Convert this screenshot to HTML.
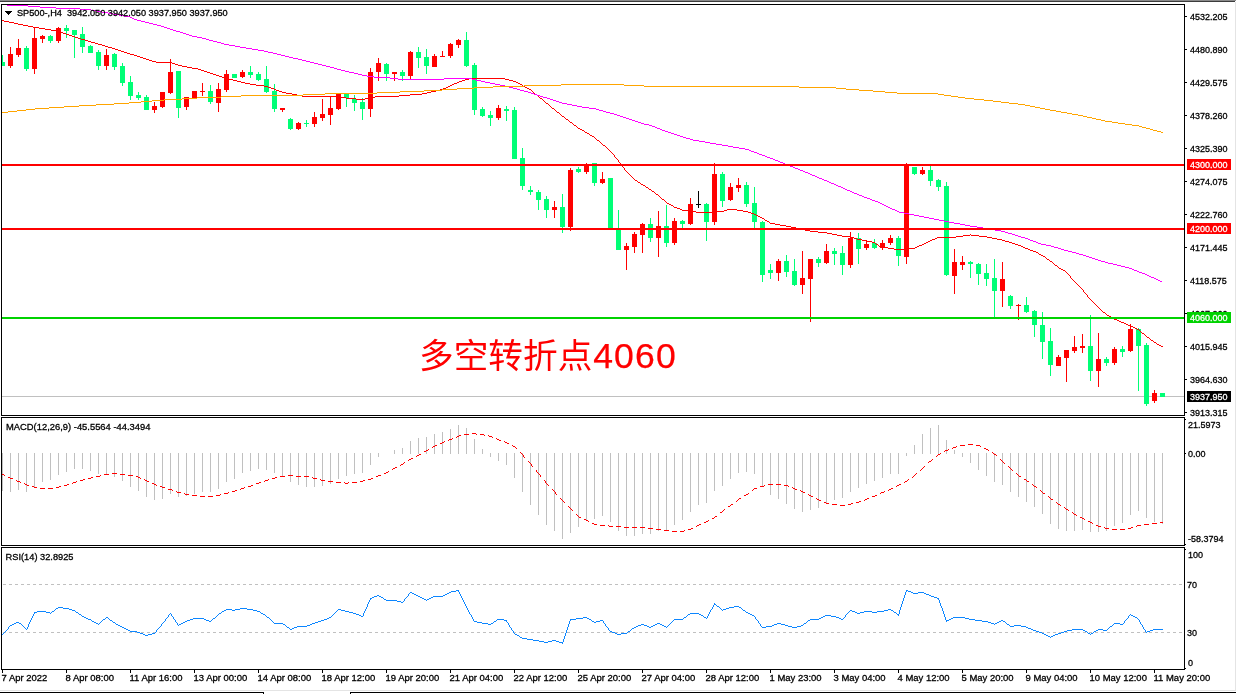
<!DOCTYPE html>
<html><head><meta charset="utf-8"><title>SP500 H4</title>
<style>
html,body{margin:0;padding:0;background:#fff;}
body{width:1236px;height:694px;overflow:hidden;font-family:"Liberation Sans",sans-serif;}
svg text{font-family:"Liberation Sans",sans-serif;}
</style></head><body>
<svg width="1236" height="694" viewBox="0 0 1236 694" style="display:block;will-change:transform;font-family:&#39;Liberation Sans&#39;,sans-serif" >
<rect x="0" y="0" width="1236" height="694" fill="#fff"/>
<rect x="0" y="0" width="1236" height="1" fill="#8a8a8a"/>
<rect x="0" y="1" width="1235" height="1" fill="#3c3c3c"/>
<rect x="1235" y="2" width="1" height="688" fill="#E4E4E4"/>
<rect x="0" y="690" width="1236" height="1" fill="#E4E4E4"/>
<rect x="0" y="692" width="264" height="1" fill="#000"/>
<rect x="350" y="692" width="886" height="1" fill="#000"/>
<rect x="263" y="692" width="1" height="2" fill="#000"/>
<rect x="350" y="692" width="1" height="2" fill="#000"/>
<g shape-rendering="crispEdges">
<rect x="2" y="55" width="1" height="11" fill="#00FF76"/>
<rect x="2" y="62" width="3" height="4" fill="#00FF76"/>
<rect x="10" y="47" width="1" height="21" fill="#FF0000"/>
<rect x="8" y="54" width="5" height="12" fill="#FF0000"/>
<rect x="18" y="39" width="1" height="18" fill="#FF0000"/>
<rect x="16" y="48" width="5" height="7" fill="#FF0000"/>
<rect x="26" y="46" width="1" height="25" fill="#00FF76"/>
<rect x="24" y="48" width="5" height="21" fill="#00FF76"/>
<rect x="34" y="27" width="1" height="47" fill="#FF0000"/>
<rect x="32" y="38" width="5" height="31" fill="#FF0000"/>
<rect x="42" y="35" width="1" height="8" fill="#FF0000"/>
<rect x="40" y="36" width="5" height="3" fill="#FF0000"/>
<rect x="50" y="35" width="1" height="8" fill="#00FF76"/>
<rect x="48" y="36" width="5" height="5" fill="#00FF76"/>
<rect x="58" y="27" width="1" height="16" fill="#FF0000"/>
<rect x="56" y="28" width="5" height="13" fill="#FF0000"/>
<rect x="66" y="25" width="1" height="13" fill="#00FF76"/>
<rect x="64" y="28" width="5" height="3" fill="#00FF76"/>
<rect x="74" y="30" width="1" height="28" fill="#00FF76"/>
<rect x="72" y="30" width="5" height="5" fill="#00FF76"/>
<rect x="82" y="27" width="1" height="26" fill="#00FF76"/>
<rect x="80" y="34" width="5" height="13" fill="#00FF76"/>
<rect x="90" y="45" width="1" height="8" fill="#00FF76"/>
<rect x="88" y="46" width="5" height="7" fill="#00FF76"/>
<rect x="98" y="50" width="1" height="20" fill="#00FF76"/>
<rect x="96" y="52" width="5" height="14" fill="#00FF76"/>
<rect x="106" y="49" width="1" height="21" fill="#FF0000"/>
<rect x="104" y="55" width="5" height="11" fill="#FF0000"/>
<rect x="114" y="53" width="1" height="17" fill="#00FF76"/>
<rect x="112" y="54" width="5" height="13" fill="#00FF76"/>
<rect x="122" y="63" width="1" height="23" fill="#00FF76"/>
<rect x="120" y="66" width="5" height="17" fill="#00FF76"/>
<rect x="130" y="76" width="1" height="24" fill="#00FF76"/>
<rect x="128" y="82" width="5" height="14" fill="#00FF76"/>
<rect x="138" y="92" width="1" height="8" fill="#00FF76"/>
<rect x="136" y="95" width="5" height="3" fill="#00FF76"/>
<rect x="146" y="95" width="1" height="15" fill="#00FF76"/>
<rect x="144" y="97" width="5" height="13" fill="#00FF76"/>
<rect x="154" y="102" width="1" height="11" fill="#FF0000"/>
<rect x="152" y="106" width="5" height="4" fill="#FF0000"/>
<rect x="162" y="92" width="1" height="16" fill="#FF0000"/>
<rect x="160" y="92" width="5" height="15" fill="#FF0000"/>
<rect x="170" y="59" width="1" height="35" fill="#FF0000"/>
<rect x="168" y="72" width="5" height="21" fill="#FF0000"/>
<rect x="178" y="71" width="1" height="47" fill="#00FF76"/>
<rect x="176" y="71" width="5" height="37" fill="#00FF76"/>
<rect x="186" y="97" width="1" height="13" fill="#FF0000"/>
<rect x="184" y="97" width="5" height="10" fill="#FF0000"/>
<rect x="194" y="91" width="1" height="7" fill="#FF0000"/>
<rect x="192" y="91" width="5" height="7" fill="#FF0000"/>
<rect x="202" y="83" width="1" height="13" fill="#FF0000"/>
<rect x="200" y="91" width="5" height="1" fill="#FF0000"/>
<rect x="210" y="85" width="1" height="19" fill="#00FF76"/>
<rect x="208" y="91" width="5" height="11" fill="#00FF76"/>
<rect x="218" y="83" width="1" height="29" fill="#FF0000"/>
<rect x="216" y="89" width="5" height="14" fill="#FF0000"/>
<rect x="226" y="70" width="1" height="22" fill="#FF0000"/>
<rect x="224" y="74" width="5" height="16" fill="#FF0000"/>
<rect x="234" y="74" width="1" height="4" fill="#00FF76"/>
<rect x="232" y="74" width="5" height="4" fill="#00FF76"/>
<rect x="242" y="70" width="1" height="8" fill="#FF0000"/>
<rect x="240" y="72" width="5" height="5" fill="#FF0000"/>
<rect x="250" y="66" width="1" height="12" fill="#00FF76"/>
<rect x="248" y="72" width="5" height="3" fill="#00FF76"/>
<rect x="258" y="72" width="1" height="9" fill="#00FF76"/>
<rect x="256" y="74" width="5" height="6" fill="#00FF76"/>
<rect x="266" y="66" width="1" height="27" fill="#00FF76"/>
<rect x="264" y="79" width="5" height="13" fill="#00FF76"/>
<rect x="274" y="84" width="1" height="28" fill="#00FF76"/>
<rect x="272" y="91" width="5" height="18" fill="#00FF76"/>
<rect x="282" y="108" width="1" height="4" fill="#FF0000"/>
<rect x="280" y="108" width="5" height="2" fill="#FF0000"/>
<rect x="290" y="118" width="1" height="12" fill="#00FF76"/>
<rect x="288" y="119" width="5" height="10" fill="#00FF76"/>
<rect x="298" y="122" width="1" height="8" fill="#FF0000"/>
<rect x="296" y="123" width="5" height="6" fill="#FF0000"/>
<rect x="306" y="120" width="1" height="7" fill="#00FF76"/>
<rect x="304" y="123" width="5" height="1" fill="#00FF76"/>
<rect x="314" y="112" width="1" height="15" fill="#FF0000"/>
<rect x="312" y="117" width="5" height="7" fill="#FF0000"/>
<rect x="322" y="99" width="1" height="22" fill="#FF0000"/>
<rect x="320" y="114" width="5" height="4" fill="#FF0000"/>
<rect x="330" y="97" width="1" height="28" fill="#FF0000"/>
<rect x="328" y="108" width="5" height="7" fill="#FF0000"/>
<rect x="338" y="94" width="1" height="16" fill="#FF0000"/>
<rect x="336" y="94" width="5" height="15" fill="#FF0000"/>
<rect x="346" y="94" width="1" height="13" fill="#00FF76"/>
<rect x="344" y="94" width="5" height="4" fill="#00FF76"/>
<rect x="354" y="95" width="1" height="16" fill="#00FF76"/>
<rect x="352" y="99" width="5" height="4" fill="#00FF76"/>
<rect x="362" y="98" width="1" height="22" fill="#00FF76"/>
<rect x="360" y="102" width="5" height="7" fill="#00FF76"/>
<rect x="370" y="68" width="1" height="49" fill="#FF0000"/>
<rect x="368" y="72" width="5" height="37" fill="#FF0000"/>
<rect x="378" y="58" width="1" height="23" fill="#FF0000"/>
<rect x="376" y="63" width="5" height="9" fill="#FF0000"/>
<rect x="386" y="63" width="1" height="18" fill="#00FF76"/>
<rect x="384" y="64" width="5" height="10" fill="#00FF76"/>
<rect x="394" y="72" width="1" height="9" fill="#FF0000"/>
<rect x="392" y="72" width="5" height="2" fill="#FF0000"/>
<rect x="402" y="70" width="1" height="11" fill="#00FF76"/>
<rect x="400" y="72" width="5" height="4" fill="#00FF76"/>
<rect x="410" y="51" width="1" height="28" fill="#FF0000"/>
<rect x="408" y="52" width="5" height="24" fill="#FF0000"/>
<rect x="418" y="47" width="1" height="21" fill="#00FF76"/>
<rect x="416" y="52" width="5" height="6" fill="#00FF76"/>
<rect x="426" y="49" width="1" height="25" fill="#00FF76"/>
<rect x="424" y="57" width="5" height="9" fill="#00FF76"/>
<rect x="434" y="54" width="1" height="13" fill="#FF0000"/>
<rect x="432" y="56" width="5" height="11" fill="#FF0000"/>
<rect x="442" y="51" width="1" height="6" fill="#FF0000"/>
<rect x="440" y="56" width="5" height="1" fill="#FF0000"/>
<rect x="450" y="43" width="1" height="15" fill="#FF0000"/>
<rect x="448" y="44" width="5" height="12" fill="#FF0000"/>
<rect x="458" y="39" width="1" height="9" fill="#FF0000"/>
<rect x="456" y="40" width="5" height="5" fill="#FF0000"/>
<rect x="466" y="32" width="1" height="35" fill="#00FF76"/>
<rect x="464" y="40" width="5" height="26" fill="#00FF76"/>
<rect x="474" y="63" width="1" height="52" fill="#00FF76"/>
<rect x="472" y="65" width="5" height="45" fill="#00FF76"/>
<rect x="482" y="107" width="1" height="10" fill="#00FF76"/>
<rect x="480" y="109" width="5" height="7" fill="#00FF76"/>
<rect x="490" y="111" width="1" height="15" fill="#00FF76"/>
<rect x="488" y="115" width="5" height="3" fill="#00FF76"/>
<rect x="498" y="105" width="1" height="15" fill="#FF0000"/>
<rect x="496" y="108" width="5" height="10" fill="#FF0000"/>
<rect x="506" y="106" width="1" height="15" fill="#00FF76"/>
<rect x="504" y="109" width="5" height="2" fill="#00FF76"/>
<rect x="514" y="107" width="1" height="52" fill="#00FF76"/>
<rect x="512" y="110" width="5" height="49" fill="#00FF76"/>
<rect x="522" y="148" width="1" height="42" fill="#00FF76"/>
<rect x="520" y="158" width="5" height="28" fill="#00FF76"/>
<rect x="530" y="186" width="1" height="9" fill="#00FF76"/>
<rect x="528" y="190" width="5" height="2" fill="#00FF76"/>
<rect x="538" y="190" width="1" height="20" fill="#00FF76"/>
<rect x="536" y="192" width="5" height="8" fill="#00FF76"/>
<rect x="546" y="196" width="1" height="22" fill="#00FF76"/>
<rect x="544" y="199" width="5" height="11" fill="#00FF76"/>
<rect x="554" y="201" width="1" height="17" fill="#FF0000"/>
<rect x="552" y="207" width="5" height="3" fill="#FF0000"/>
<rect x="562" y="194" width="1" height="39" fill="#00FF76"/>
<rect x="560" y="207" width="5" height="20" fill="#00FF76"/>
<rect x="570" y="168" width="1" height="63" fill="#FF0000"/>
<rect x="568" y="170" width="5" height="57" fill="#FF0000"/>
<rect x="578" y="167" width="1" height="6" fill="#00FF76"/>
<rect x="576" y="169" width="5" height="3" fill="#00FF76"/>
<rect x="586" y="163" width="1" height="11" fill="#FF0000"/>
<rect x="584" y="164" width="5" height="8" fill="#FF0000"/>
<rect x="594" y="163" width="1" height="23" fill="#00FF76"/>
<rect x="592" y="163" width="5" height="20" fill="#00FF76"/>
<rect x="602" y="172" width="1" height="12" fill="#FF0000"/>
<rect x="600" y="179" width="5" height="4" fill="#FF0000"/>
<rect x="610" y="178" width="1" height="50" fill="#00FF76"/>
<rect x="608" y="178" width="5" height="50" fill="#00FF76"/>
<rect x="618" y="210" width="1" height="40" fill="#00FF76"/>
<rect x="616" y="228" width="5" height="22" fill="#00FF76"/>
<rect x="626" y="243" width="1" height="27" fill="#FF0000"/>
<rect x="624" y="246" width="5" height="4" fill="#FF0000"/>
<rect x="634" y="232" width="1" height="21" fill="#FF0000"/>
<rect x="632" y="234" width="5" height="13" fill="#FF0000"/>
<rect x="642" y="223" width="1" height="30" fill="#FF0000"/>
<rect x="640" y="224" width="5" height="11" fill="#FF0000"/>
<rect x="650" y="218" width="1" height="24" fill="#00FF76"/>
<rect x="648" y="224" width="5" height="14" fill="#00FF76"/>
<rect x="658" y="211" width="1" height="46" fill="#FF0000"/>
<rect x="656" y="226" width="5" height="12" fill="#FF0000"/>
<rect x="666" y="205" width="1" height="42" fill="#00FF76"/>
<rect x="664" y="226" width="5" height="17" fill="#00FF76"/>
<rect x="674" y="218" width="1" height="27" fill="#FF0000"/>
<rect x="672" y="221" width="5" height="22" fill="#FF0000"/>
<rect x="682" y="220" width="1" height="8" fill="#00FF76"/>
<rect x="680" y="221" width="5" height="3" fill="#00FF76"/>
<rect x="690" y="198" width="1" height="27" fill="#FF0000"/>
<rect x="688" y="204" width="5" height="20" fill="#FF0000"/>
<rect x="698" y="191" width="1" height="17" fill="#000"/>
<rect x="696" y="204" width="5" height="1" fill="#000"/>
<rect x="706" y="203" width="1" height="38" fill="#00FF76"/>
<rect x="704" y="204" width="5" height="18" fill="#00FF76"/>
<rect x="714" y="163" width="1" height="62" fill="#FF0000"/>
<rect x="712" y="174" width="5" height="48" fill="#FF0000"/>
<rect x="722" y="172" width="1" height="35" fill="#00FF76"/>
<rect x="720" y="174" width="5" height="27" fill="#00FF76"/>
<rect x="730" y="183" width="1" height="18" fill="#FF0000"/>
<rect x="728" y="187" width="5" height="13" fill="#FF0000"/>
<rect x="738" y="178" width="1" height="14" fill="#FF0000"/>
<rect x="736" y="185" width="5" height="3" fill="#FF0000"/>
<rect x="746" y="182" width="1" height="25" fill="#00FF76"/>
<rect x="744" y="185" width="5" height="19" fill="#00FF76"/>
<rect x="754" y="187" width="1" height="41" fill="#00FF76"/>
<rect x="752" y="203" width="5" height="19" fill="#00FF76"/>
<rect x="762" y="221" width="1" height="61" fill="#00FF76"/>
<rect x="760" y="222" width="5" height="53" fill="#00FF76"/>
<rect x="770" y="264" width="1" height="15" fill="#00FF76"/>
<rect x="768" y="270" width="5" height="3" fill="#00FF76"/>
<rect x="778" y="259" width="1" height="22" fill="#FF0000"/>
<rect x="776" y="261" width="5" height="12" fill="#FF0000"/>
<rect x="786" y="255" width="1" height="22" fill="#00FF76"/>
<rect x="784" y="261" width="5" height="11" fill="#00FF76"/>
<rect x="794" y="259" width="1" height="27" fill="#00FF76"/>
<rect x="792" y="271" width="5" height="14" fill="#00FF76"/>
<rect x="802" y="251" width="1" height="43" fill="#FF0000"/>
<rect x="800" y="278" width="5" height="7" fill="#FF0000"/>
<rect x="810" y="259" width="1" height="63" fill="#FF0000"/>
<rect x="808" y="259" width="5" height="20" fill="#FF0000"/>
<rect x="818" y="257" width="1" height="10" fill="#00FF76"/>
<rect x="816" y="259" width="5" height="4" fill="#00FF76"/>
<rect x="826" y="244" width="1" height="20" fill="#FF0000"/>
<rect x="824" y="251" width="5" height="12" fill="#FF0000"/>
<rect x="834" y="248" width="1" height="17" fill="#00FF76"/>
<rect x="832" y="251" width="5" height="3" fill="#00FF76"/>
<rect x="842" y="246" width="1" height="29" fill="#00FF76"/>
<rect x="840" y="253" width="5" height="12" fill="#00FF76"/>
<rect x="850" y="232" width="1" height="36" fill="#FF0000"/>
<rect x="848" y="238" width="5" height="27" fill="#FF0000"/>
<rect x="858" y="233" width="1" height="31" fill="#00FF76"/>
<rect x="856" y="238" width="5" height="11" fill="#00FF76"/>
<rect x="866" y="240" width="1" height="10" fill="#FF0000"/>
<rect x="864" y="244" width="5" height="4" fill="#FF0000"/>
<rect x="874" y="239" width="1" height="10" fill="#00FF76"/>
<rect x="872" y="243" width="5" height="5" fill="#00FF76"/>
<rect x="882" y="240" width="1" height="10" fill="#FF0000"/>
<rect x="880" y="243" width="5" height="5" fill="#FF0000"/>
<rect x="890" y="235" width="1" height="10" fill="#FF0000"/>
<rect x="888" y="238" width="5" height="5" fill="#FF0000"/>
<rect x="898" y="236" width="1" height="30" fill="#00FF76"/>
<rect x="896" y="238" width="5" height="18" fill="#00FF76"/>
<rect x="906" y="163" width="1" height="101" fill="#FF0000"/>
<rect x="904" y="164" width="5" height="93" fill="#FF0000"/>
<rect x="914" y="167" width="1" height="8" fill="#00FF76"/>
<rect x="912" y="167" width="5" height="7" fill="#00FF76"/>
<rect x="922" y="167" width="1" height="8" fill="#FF0000"/>
<rect x="920" y="170" width="5" height="4" fill="#FF0000"/>
<rect x="930" y="166" width="1" height="20" fill="#00FF76"/>
<rect x="928" y="170" width="5" height="11" fill="#00FF76"/>
<rect x="938" y="179" width="1" height="12" fill="#00FF76"/>
<rect x="936" y="180" width="5" height="7" fill="#00FF76"/>
<rect x="946" y="182" width="1" height="94" fill="#00FF76"/>
<rect x="944" y="186" width="5" height="89" fill="#00FF76"/>
<rect x="954" y="249" width="1" height="45" fill="#FF0000"/>
<rect x="952" y="262" width="5" height="14" fill="#FF0000"/>
<rect x="962" y="256" width="1" height="14" fill="#FF0000"/>
<rect x="960" y="262" width="5" height="3" fill="#FF0000"/>
<rect x="970" y="261" width="1" height="17" fill="#00FF76"/>
<rect x="968" y="262" width="5" height="2" fill="#00FF76"/>
<rect x="978" y="263" width="1" height="22" fill="#00FF76"/>
<rect x="976" y="264" width="5" height="10" fill="#00FF76"/>
<rect x="986" y="264" width="1" height="22" fill="#00FF76"/>
<rect x="984" y="273" width="5" height="6" fill="#00FF76"/>
<rect x="994" y="259" width="1" height="58" fill="#00FF76"/>
<rect x="992" y="278" width="5" height="13" fill="#00FF76"/>
<rect x="1002" y="262" width="1" height="45" fill="#FF0000"/>
<rect x="1000" y="279" width="5" height="12" fill="#FF0000"/>
<rect x="1010" y="295" width="1" height="14" fill="#00FF76"/>
<rect x="1008" y="296" width="5" height="10" fill="#00FF76"/>
<rect x="1018" y="304" width="1" height="16" fill="#FF0000"/>
<rect x="1016" y="305" width="5" height="1" fill="#FF0000"/>
<rect x="1026" y="297" width="1" height="16" fill="#00FF76"/>
<rect x="1024" y="305" width="5" height="7" fill="#00FF76"/>
<rect x="1034" y="310" width="1" height="27" fill="#00FF76"/>
<rect x="1032" y="311" width="5" height="14" fill="#00FF76"/>
<rect x="1042" y="312" width="1" height="47" fill="#00FF76"/>
<rect x="1040" y="325" width="5" height="17" fill="#00FF76"/>
<rect x="1050" y="328" width="1" height="48" fill="#00FF76"/>
<rect x="1048" y="341" width="5" height="24" fill="#00FF76"/>
<rect x="1058" y="355" width="1" height="11" fill="#FF0000"/>
<rect x="1056" y="357" width="5" height="9" fill="#FF0000"/>
<rect x="1066" y="350" width="1" height="32" fill="#FF0000"/>
<rect x="1064" y="350" width="5" height="8" fill="#FF0000"/>
<rect x="1074" y="336" width="1" height="17" fill="#FF0000"/>
<rect x="1072" y="347" width="5" height="4" fill="#FF0000"/>
<rect x="1082" y="334" width="1" height="19" fill="#FF0000"/>
<rect x="1080" y="346" width="5" height="2" fill="#FF0000"/>
<rect x="1090" y="315" width="1" height="66" fill="#00FF76"/>
<rect x="1088" y="346" width="5" height="25" fill="#00FF76"/>
<rect x="1098" y="333" width="1" height="54" fill="#FF0000"/>
<rect x="1096" y="359" width="5" height="12" fill="#FF0000"/>
<rect x="1106" y="357" width="1" height="9" fill="#00FF76"/>
<rect x="1104" y="359" width="5" height="4" fill="#00FF76"/>
<rect x="1114" y="347" width="1" height="18" fill="#FF0000"/>
<rect x="1112" y="349" width="5" height="14" fill="#FF0000"/>
<rect x="1122" y="346" width="1" height="11" fill="#00FF76"/>
<rect x="1120" y="349" width="5" height="3" fill="#00FF76"/>
<rect x="1130" y="324" width="1" height="28" fill="#FF0000"/>
<rect x="1128" y="329" width="5" height="22" fill="#FF0000"/>
<rect x="1138" y="328" width="1" height="63" fill="#00FF76"/>
<rect x="1136" y="329" width="5" height="17" fill="#00FF76"/>
<rect x="1146" y="343" width="1" height="63" fill="#00FF76"/>
<rect x="1144" y="345" width="5" height="59" fill="#00FF76"/>
<rect x="1154" y="390" width="1" height="13" fill="#FF0000"/>
<rect x="1152" y="393" width="5" height="8" fill="#FF0000"/>
<rect x="1162" y="393" width="1" height="4" fill="#00FF76"/>
<rect x="1160" y="393" width="5" height="4" fill="#00FF76"/>
<rect x="2" y="396" width="1182" height="1" fill="#C0C0C0"/>
<rect x="1146" y="343" width="1" height="63" fill="#00FF76"/>
<rect x="1144" y="345" width="5" height="59" fill="#00FF76"/>
<rect x="1154" y="390" width="1" height="13" fill="#FF0000"/>
<rect x="1152" y="393" width="5" height="8" fill="#FF0000"/>
<rect x="1162" y="393" width="1" height="4" fill="#00FF76"/>
<rect x="1160" y="393" width="5" height="4" fill="#00FF76"/>
</g>
<path d="M1 20.5h3M4 21.5h5M9 22.5h5M14 23.5h4M18 24.5h5M23 25.5h5M28 26.5h5M33 27.5h6M39 28.5h6M45 29.5h6M51 30.5h6M57 31.5h3M60 32.5h3M63 33.5h3M66 34.5h3M69 35.5h3M72 36.5h3M75 37.5h3M78 38.5h3M81 39.5h4M85 40.5h3M88 41.5h3M91 42.5h4M95 43.5h3M98 44.5h4M102 45.5h3M105 46.5h3M108 47.5h4M112 48.5h3M115 49.5h3M118 50.5h3M121 51.5h3M124 52.5h3M127 53.5h3M130 54.5h4M134 55.5h3M137 56.5h3M140 57.5h3M143 58.5h3M146 59.5h3M149 60.5h3M152 61.5h4M156 62.5h16M172 63.5h3M175 64.5h3M178 65.5h4M182 66.5h5M187 67.5h5M192 68.5h6M198 69.5h3M201 70.5h3M204 71.5h3M207 72.5h3M210 73.5h3M213 74.5h3M216 75.5h3M219 76.5h3M222 77.5h3M225 78.5h4M229 79.5h4M233 80.5h4M237 81.5h4M241 82.5h4M245 83.5h5M250 84.5h6M256 85.5h8M264 86.5h4M268 87.5h3M271 88.5h3M274 89.5h2M276 90.5h3M279 91.5h3M282 92.5h4M286 93.5h6M292 94.5h5M297 95.5h5M302 96.5h34M336 97.5h10M346 98.5h10M356 99.5h9M365 98.5h6M371 97.5h4M375 96.5h24M399 95.5h11M410 94.5h12M422 93.5h5M427 92.5h4M431 91.5h5M436 90.5h4M440 89.5h3M443 88.5h3M446 87.5h2M448 86.5h2M450 85.5h2M452 84.5h2M454 83.5h3M457 82.5h2M459 81.5h3M462 80.5h3M465 79.5h4M469 78.5h36M505 79.5h4M509 80.5h4M513 81.5h3M516 82.5h2M518 83.5h2M520 84.5h2M522 85.5h1M523 86.5h2M525 87.5h2M527 88.5h2M529 89.5h2M531 90.5h1M532 91.5h1M533 92.5h1M534 93.5h1M535 94.5h2M537 95.5h1M538 96.5h1M539 97.5h1M540 98.5h2M542 99.5h1M543 100.5h1M544 101.5h1M545 102.5h1M546 103.5h2M548 104.5h1M549 105.5h1M550 106.5h1M551 107.5h1M552 108.5h2M554 109.5h1M555 110.5h1M556 111.5h1M557 112.5h2M559 113.5h1M560 114.5h1M561 115.5h1M562 116.5h2M564 117.5h1M565 118.5h1M566 119.5h2M568 120.5h1M569 121.5h1M570 122.5h2M572 123.5h1M573 124.5h1M574 125.5h2M576 126.5h1M577 127.5h1M578 128.5h2M580 129.5h2M582 130.5h2M584 131.5h1M585 132.5h2M587 133.5h2M589 134.5h1M590 135.5h2M592 136.5h2M594 137.5h1M595 138.5h1M596 139.5h1M597 140.5h2M599 141.5h1M600 142.5h1M601 143.5h1M602 144.5h1M603 145.5h2M605 146.5h1M606 147.5h1M607 148.5h1M608 149.5h1M609 150.5h1M610 151.5h1M611 152.5h1M612 153.5h1M613 154.5h1M614.5 155v2M615 157.5h1M616 158.5h1M617 159.5h1M618.5 160v2M619 162.5h1M620 163.5h1M621.5 164v2M622 166.5h1M623 167.5h1M624.5 168v2M625 170.5h1M626 171.5h1M627 172.5h1M628 173.5h1M629 174.5h1M630 175.5h1M631 176.5h1M632 177.5h1M633 178.5h1M634 179.5h1M635 180.5h2M637 181.5h1M638 182.5h2M640 183.5h1M641 184.5h2M643 185.5h2M645 186.5h1M646 187.5h2M648 188.5h1M649 189.5h2M651 190.5h1M652 191.5h2M654 192.5h1M655 193.5h1M656 194.5h2M658 195.5h1M659 196.5h1M660 197.5h1M661 198.5h1M662 199.5h2M664 200.5h1M665 201.5h1M666 202.5h1M667 203.5h2M669 204.5h2M671 205.5h2M673 206.5h1M674 207.5h3M677 208.5h3M680 209.5h2M682 210.5h9M691 211.5h5M696 212.5h18M714 211.5h10M724 210.5h3M727 209.5h10M737 210.5h6M743 211.5h5M748 212.5h3M751 213.5h3M754 214.5h2M756 215.5h2M758 216.5h2M760 217.5h2M762 218.5h2M764 219.5h1M765 220.5h2M767 221.5h2M769 222.5h1M770 223.5h5M775 224.5h5M780 225.5h6M786 226.5h5M791 227.5h5M796 228.5h5M801 229.5h4M805 230.5h5M810 231.5h8M818 232.5h9M827 233.5h5M832 234.5h5M837 235.5h5M842 236.5h9M851 237.5h3M854 238.5h3M857 239.5h5M862 240.5h5M867 241.5h5M872 242.5h3M875 243.5h1M876 244.5h2M878 245.5h1M879 246.5h3M882 247.5h6M888 248.5h6M894 249.5h12M906 248.5h9M915 247.5h2M917 246.5h2M919 245.5h3M922 244.5h2M924 243.5h2M926 242.5h2M928 241.5h2M930 240.5h2M932 239.5h3M935 238.5h2M937 237.5h19M956 236.5h7M963 235.5h7M970 234.5h1M971 235.5h8M979 236.5h8M987 237.5h5M992 238.5h5M997 239.5h5M1002 240.5h3M1005 241.5h4M1009 242.5h3M1012 243.5h3M1015 244.5h3M1018 245.5h3M1021 246.5h2M1023 247.5h2M1025 248.5h3M1028 249.5h2M1030 250.5h3M1033 251.5h3M1036 252.5h2M1038 253.5h1M1039 254.5h2M1041 255.5h2M1043 256.5h2M1045 257.5h1M1046 258.5h1M1047 259.5h2M1049 260.5h1M1050 261.5h2M1052 262.5h1M1053 263.5h1M1054 264.5h1M1055 265.5h2M1057 266.5h1M1058 267.5h1M1059 268.5h2M1061 269.5h2M1063 270.5h2M1065 271.5h1M1066 272.5h1M1067 273.5h1M1068 274.5h1M1069 275.5h1M1070.5 276v2M1071 278.5h1M1072 279.5h1M1073 280.5h1M1074 281.5h1M1075 282.5h1M1076 283.5h1M1077 284.5h1M1078 285.5h1M1079 286.5h1M1080 287.5h1M1081 288.5h1M1082 289.5h1M1083.5 290v2M1084 292.5h1M1085 293.5h1M1086 294.5h1M1087.5 295v2M1088 297.5h1M1089 298.5h1M1090 299.5h1M1091 300.5h1M1092 301.5h1M1093 302.5h1M1094 303.5h1M1095 304.5h1M1096 305.5h1M1097 306.5h1M1098 307.5h1M1099 308.5h1M1100 309.5h1M1101 310.5h1M1102 311.5h1M1103 312.5h2M1105 313.5h1M1106 314.5h1M1107 315.5h2M1109 316.5h2M1111 317.5h1M1112 318.5h2M1114 319.5h3M1117 320.5h2M1119 321.5h2M1121 322.5h3M1124 323.5h2M1126 324.5h2M1128 325.5h3M1131 326.5h2M1133 327.5h2M1135 328.5h2M1137 329.5h2M1139 330.5h1M1140 331.5h1M1141 332.5h1M1142 333.5h2M1144 334.5h1M1145 335.5h1M1146 336.5h1M1147 337.5h2M1149 338.5h1M1150 339.5h1M1151 340.5h2M1153 341.5h1M1154 342.5h2M1156 343.5h1M1157 344.5h2M1159 345.5h2M1161 346.5h2" stroke="#FF0000" stroke-width="1" fill="none" shape-rendering="crispEdges"/>
<path d="M7 5.5h21M28 6.5h12M40 7.5h16M56 8.5h24M80 9.5h11M91 10.5h6M97 11.5h5M102 12.5h6M108 13.5h5M113 14.5h6M119 15.5h5M124 16.5h6M130 17.5h2M132 18.5h2M134 19.5h3M137 20.5h4M141 21.5h4M145 22.5h4M149 23.5h4M153 24.5h4M157 25.5h4M161 26.5h3M164 27.5h3M167 28.5h3M170 29.5h3M173 30.5h3M176 31.5h4M180 32.5h3M183 33.5h3M186 34.5h3M189 35.5h3M192 36.5h5M197 37.5h5M202 38.5h4M206 39.5h3M209 40.5h4M213 41.5h4M217 42.5h4M221 43.5h3M224 44.5h5M229 45.5h6M235 46.5h5M240 47.5h6M246 48.5h6M252 49.5h6M258 50.5h6M264 51.5h4M268 52.5h5M273 53.5h4M277 54.5h4M281 55.5h4M285 56.5h4M289 57.5h4M293 58.5h5M298 59.5h4M302 60.5h4M306 61.5h4M310 62.5h4M314 63.5h4M318 64.5h4M322 65.5h4M326 66.5h4M330 67.5h4M334 68.5h3M337 69.5h4M341 70.5h4M345 71.5h4M349 72.5h5M354 73.5h4M358 74.5h4M362 75.5h5M367 76.5h7M374 77.5h16M390 78.5h8M398 79.5h46M444 78.5h28M472 79.5h4M476 80.5h5M481 81.5h4M485 82.5h5M490 83.5h5M495 84.5h5M500 85.5h5M505 86.5h4M509 87.5h4M513 88.5h4M517 89.5h3M520 90.5h4M524 91.5h4M528 92.5h3M531 93.5h3M534 94.5h3M537 95.5h3M540 96.5h3M543 97.5h4M547 98.5h3M550 99.5h3M553 100.5h3M556 101.5h3M559 102.5h3M562 103.5h5M567 104.5h5M572 105.5h5M577 106.5h5M582 107.5h7M589 108.5h7M596 109.5h3M599 110.5h4M603 111.5h3M606 112.5h4M610 113.5h4M614 114.5h3M617 115.5h3M620 116.5h3M623 117.5h3M626 118.5h3M629 119.5h3M632 120.5h3M635 121.5h3M638 122.5h3M641 123.5h3M644 124.5h5M649 125.5h3M652 126.5h3M655 127.5h2M657 128.5h3M660 129.5h2M662 130.5h3M665 131.5h3M668 132.5h3M671 133.5h3M674 134.5h3M677 135.5h3M680 136.5h3M683 137.5h3M686 138.5h4M690 139.5h3M693 140.5h6M699 141.5h6M705 142.5h5M710 143.5h6M716 144.5h6M722 145.5h6M728 146.5h5M733 147.5h6M739 148.5h6M745 149.5h4M749 150.5h2M751 151.5h3M754 152.5h3M757 153.5h2M759 154.5h3M762 155.5h3M765 156.5h2M767 157.5h3M770 158.5h3M773 159.5h2M775 160.5h3M778 161.5h2M780 162.5h3M783 163.5h2M785 164.5h3M788 165.5h2M790 166.5h3M793 167.5h2M795 168.5h3M798 169.5h2M800 170.5h3M803 171.5h2M805 172.5h3M808 173.5h2M810 174.5h2M812 175.5h3M815 176.5h2M817 177.5h2M819 178.5h3M822 179.5h2M824 180.5h3M827 181.5h2M829 182.5h2M831 183.5h3M834 184.5h2M836 185.5h2M838 186.5h3M841 187.5h2M843 188.5h2M845 189.5h2M847 190.5h3M850 191.5h2M852 192.5h2M854 193.5h3M857 194.5h2M859 195.5h3M862 196.5h2M864 197.5h3M867 198.5h3M870 199.5h2M872 200.5h3M875 201.5h3M878 202.5h2M880 203.5h2M882 204.5h2M884 205.5h2M886 206.5h2M888 207.5h2M890 208.5h2M892 209.5h3M895 210.5h2M897 211.5h2M899 212.5h5M904 213.5h5M909 214.5h5M914 215.5h5M919 216.5h5M924 217.5h5M929 218.5h5M934 219.5h5M939 220.5h5M944 221.5h5M949 222.5h5M954 223.5h6M960 224.5h5M965 225.5h5M970 226.5h7M977 227.5h6M983 228.5h6M989 229.5h6M995 230.5h6M1001 231.5h4M1005 232.5h3M1008 233.5h4M1012 234.5h3M1015 235.5h3M1018 236.5h3M1021 237.5h4M1025 238.5h3M1028 239.5h2M1030 240.5h3M1033 241.5h3M1036 242.5h2M1038 243.5h3M1041 244.5h5M1046 245.5h5M1051 246.5h3M1054 247.5h4M1058 248.5h3M1061 249.5h3M1064 250.5h4M1068 251.5h4M1072 252.5h4M1076 253.5h3M1079 254.5h4M1083 255.5h3M1086 256.5h3M1089 257.5h3M1092 258.5h3M1095 259.5h3M1098 260.5h3M1101 261.5h4M1105 262.5h3M1108 263.5h5M1113 264.5h4M1117 265.5h4M1121 266.5h4M1125 267.5h4M1129 268.5h3M1132 269.5h2M1134 270.5h3M1137 271.5h2M1139 272.5h3M1142 273.5h3M1145 274.5h2M1147 275.5h2M1149 276.5h2M1151 277.5h3M1154 278.5h2M1156 279.5h2M1158 280.5h2M1160 281.5h2" stroke="#FF00FF" stroke-width="1" fill="none" shape-rendering="crispEdges"/>
<path d="M2 112.5h6M8 111.5h9M17 110.5h9M26 109.5h9M35 108.5h14M49 107.5h15M64 106.5h15M79 105.5h17M96 104.5h18M114 103.5h15M129 102.5h12M141 101.5h11M152 100.5h12M164 99.5h18M182 98.5h15M197 97.5h24M221 96.5h20M241 95.5h62M303 94.5h22M325 93.5h52M377 92.5h23M400 91.5h24M424 90.5h18M442 89.5h15M457 88.5h17M474 87.5h19M493 86.5h31M524 85.5h37M561 84.5h63M624 85.5h20M644 86.5h155M799 87.5h37M836 88.5h10M846 89.5h13M859 90.5h14M873 91.5h12M885 92.5h12M897 93.5h41M938 94.5h6M944 95.5h7M951 96.5h7M958 97.5h7M965 98.5h9M974 99.5h10M984 100.5h9M993 101.5h8M1001 102.5h8M1009 103.5h9M1018 104.5h7M1025 105.5h5M1030 106.5h5M1035 107.5h5M1040 108.5h5M1045 109.5h5M1050 110.5h6M1056 111.5h5M1061 112.5h6M1067 113.5h5M1072 114.5h6M1078 115.5h5M1083 116.5h4M1087 117.5h5M1092 118.5h4M1096 119.5h5M1101 120.5h4M1105 121.5h7M1112 122.5h6M1118 123.5h7M1125 124.5h7M1132 125.5h7M1139 126.5h3M1142 127.5h4M1146 128.5h4M1150 129.5h3M1153 130.5h4M1157 131.5h4M1161 132.5h2" stroke="#FFA500" stroke-width="1" fill="none" shape-rendering="crispEdges"/>
<g shape-rendering="crispEdges">
<rect x="2" y="164" width="1182" height="2" fill="#FF0000"/>
<rect x="2" y="228" width="1182" height="2" fill="#FF0000"/>
<rect x="2" y="317" width="1182" height="2" fill="#00D200"/>
<rect x="2" y="453" width="1" height="38" fill="#C0C0C0"/>
<rect x="10" y="453" width="1" height="39" fill="#C0C0C0"/>
<rect x="18" y="453" width="1" height="37" fill="#C0C0C0"/>
<rect x="26" y="453" width="1" height="39" fill="#C0C0C0"/>
<rect x="34" y="453" width="1" height="34" fill="#C0C0C0"/>
<rect x="42" y="453" width="1" height="29" fill="#C0C0C0"/>
<rect x="50" y="453" width="1" height="27" fill="#C0C0C0"/>
<rect x="58" y="453" width="1" height="22" fill="#C0C0C0"/>
<rect x="66" y="453" width="1" height="19" fill="#C0C0C0"/>
<rect x="74" y="453" width="1" height="16" fill="#C0C0C0"/>
<rect x="82" y="453" width="1" height="16" fill="#C0C0C0"/>
<rect x="90" y="453" width="1" height="18" fill="#C0C0C0"/>
<rect x="98" y="453" width="1" height="21" fill="#C0C0C0"/>
<rect x="106" y="453" width="1" height="22" fill="#C0C0C0"/>
<rect x="114" y="453" width="1" height="24" fill="#C0C0C0"/>
<rect x="122" y="453" width="1" height="28" fill="#C0C0C0"/>
<rect x="130" y="453" width="1" height="34" fill="#C0C0C0"/>
<rect x="138" y="453" width="1" height="38" fill="#C0C0C0"/>
<rect x="146" y="453" width="1" height="44" fill="#C0C0C0"/>
<rect x="154" y="453" width="1" height="47" fill="#C0C0C0"/>
<rect x="162" y="453" width="1" height="46" fill="#C0C0C0"/>
<rect x="170" y="453" width="1" height="41" fill="#C0C0C0"/>
<rect x="178" y="453" width="1" height="44" fill="#C0C0C0"/>
<rect x="186" y="453" width="1" height="43" fill="#C0C0C0"/>
<rect x="194" y="453" width="1" height="41" fill="#C0C0C0"/>
<rect x="202" y="453" width="1" height="39" fill="#C0C0C0"/>
<rect x="210" y="453" width="1" height="39" fill="#C0C0C0"/>
<rect x="218" y="453" width="1" height="36" fill="#C0C0C0"/>
<rect x="226" y="453" width="1" height="29" fill="#C0C0C0"/>
<rect x="234" y="453" width="1" height="26" fill="#C0C0C0"/>
<rect x="242" y="453" width="1" height="20" fill="#C0C0C0"/>
<rect x="250" y="453" width="1" height="18" fill="#C0C0C0"/>
<rect x="258" y="453" width="1" height="16" fill="#C0C0C0"/>
<rect x="266" y="453" width="1" height="17" fill="#C0C0C0"/>
<rect x="274" y="453" width="1" height="20" fill="#C0C0C0"/>
<rect x="282" y="453" width="1" height="24" fill="#C0C0C0"/>
<rect x="290" y="453" width="1" height="29" fill="#C0C0C0"/>
<rect x="298" y="453" width="1" height="32" fill="#C0C0C0"/>
<rect x="306" y="453" width="1" height="34" fill="#C0C0C0"/>
<rect x="314" y="453" width="1" height="34" fill="#C0C0C0"/>
<rect x="322" y="453" width="1" height="33" fill="#C0C0C0"/>
<rect x="330" y="453" width="1" height="31" fill="#C0C0C0"/>
<rect x="338" y="453" width="1" height="26" fill="#C0C0C0"/>
<rect x="346" y="453" width="1" height="23" fill="#C0C0C0"/>
<rect x="354" y="453" width="1" height="21" fill="#C0C0C0"/>
<rect x="362" y="453" width="1" height="20" fill="#C0C0C0"/>
<rect x="370" y="453" width="1" height="12" fill="#C0C0C0"/>
<rect x="378" y="453" width="1" height="4" fill="#C0C0C0"/>
<rect x="394" y="450" width="1" height="4" fill="#C0C0C0"/>
<rect x="402" y="448" width="1" height="6" fill="#C0C0C0"/>
<rect x="410" y="441" width="1" height="13" fill="#C0C0C0"/>
<rect x="418" y="438" width="1" height="16" fill="#C0C0C0"/>
<rect x="426" y="437" width="1" height="17" fill="#C0C0C0"/>
<rect x="434" y="434" width="1" height="20" fill="#C0C0C0"/>
<rect x="442" y="432" width="1" height="22" fill="#C0C0C0"/>
<rect x="450" y="429" width="1" height="25" fill="#C0C0C0"/>
<rect x="458" y="425" width="1" height="29" fill="#C0C0C0"/>
<rect x="466" y="428" width="1" height="26" fill="#C0C0C0"/>
<rect x="474" y="439" width="1" height="15" fill="#C0C0C0"/>
<rect x="482" y="449" width="1" height="5" fill="#C0C0C0"/>
<rect x="490" y="453" width="1" height="4" fill="#C0C0C0"/>
<rect x="498" y="453" width="1" height="8" fill="#C0C0C0"/>
<rect x="506" y="453" width="1" height="12" fill="#C0C0C0"/>
<rect x="514" y="453" width="1" height="25" fill="#C0C0C0"/>
<rect x="522" y="453" width="1" height="39" fill="#C0C0C0"/>
<rect x="530" y="453" width="1" height="52" fill="#C0C0C0"/>
<rect x="538" y="453" width="1" height="62" fill="#C0C0C0"/>
<rect x="546" y="453" width="1" height="72" fill="#C0C0C0"/>
<rect x="554" y="453" width="1" height="78" fill="#C0C0C0"/>
<rect x="562" y="453" width="1" height="86" fill="#C0C0C0"/>
<rect x="570" y="453" width="1" height="80" fill="#C0C0C0"/>
<rect x="578" y="453" width="1" height="74" fill="#C0C0C0"/>
<rect x="586" y="453" width="1" height="68" fill="#C0C0C0"/>
<rect x="594" y="453" width="1" height="66" fill="#C0C0C0"/>
<rect x="602" y="453" width="1" height="63" fill="#C0C0C0"/>
<rect x="610" y="453" width="1" height="69" fill="#C0C0C0"/>
<rect x="618" y="453" width="1" height="78" fill="#C0C0C0"/>
<rect x="626" y="453" width="1" height="83" fill="#C0C0C0"/>
<rect x="634" y="453" width="1" height="83" fill="#C0C0C0"/>
<rect x="642" y="453" width="1" height="81" fill="#C0C0C0"/>
<rect x="650" y="453" width="1" height="81" fill="#C0C0C0"/>
<rect x="658" y="453" width="1" height="78" fill="#C0C0C0"/>
<rect x="666" y="453" width="1" height="77" fill="#C0C0C0"/>
<rect x="674" y="453" width="1" height="72" fill="#C0C0C0"/>
<rect x="682" y="453" width="1" height="67" fill="#C0C0C0"/>
<rect x="690" y="453" width="1" height="59" fill="#C0C0C0"/>
<rect x="698" y="453" width="1" height="52" fill="#C0C0C0"/>
<rect x="706" y="453" width="1" height="50" fill="#C0C0C0"/>
<rect x="714" y="453" width="1" height="38" fill="#C0C0C0"/>
<rect x="722" y="453" width="1" height="33" fill="#C0C0C0"/>
<rect x="730" y="453" width="1" height="26" fill="#C0C0C0"/>
<rect x="738" y="453" width="1" height="20" fill="#C0C0C0"/>
<rect x="746" y="453" width="1" height="19" fill="#C0C0C0"/>
<rect x="754" y="453" width="1" height="21" fill="#C0C0C0"/>
<rect x="762" y="453" width="1" height="34" fill="#C0C0C0"/>
<rect x="770" y="453" width="1" height="42" fill="#C0C0C0"/>
<rect x="778" y="453" width="1" height="46" fill="#C0C0C0"/>
<rect x="786" y="453" width="1" height="51" fill="#C0C0C0"/>
<rect x="794" y="453" width="1" height="56" fill="#C0C0C0"/>
<rect x="802" y="453" width="1" height="59" fill="#C0C0C0"/>
<rect x="810" y="453" width="1" height="57" fill="#C0C0C0"/>
<rect x="818" y="453" width="1" height="55" fill="#C0C0C0"/>
<rect x="826" y="453" width="1" height="51" fill="#C0C0C0"/>
<rect x="834" y="453" width="1" height="47" fill="#C0C0C0"/>
<rect x="842" y="453" width="1" height="45" fill="#C0C0C0"/>
<rect x="850" y="453" width="1" height="39" fill="#C0C0C0"/>
<rect x="858" y="453" width="1" height="35" fill="#C0C0C0"/>
<rect x="866" y="453" width="1" height="31" fill="#C0C0C0"/>
<rect x="874" y="453" width="1" height="28" fill="#C0C0C0"/>
<rect x="882" y="453" width="1" height="25" fill="#C0C0C0"/>
<rect x="890" y="453" width="1" height="21" fill="#C0C0C0"/>
<rect x="898" y="453" width="1" height="21" fill="#C0C0C0"/>
<rect x="906" y="453" width="1" height="3" fill="#C0C0C0"/>
<rect x="914" y="445" width="1" height="9" fill="#C0C0C0"/>
<rect x="922" y="434" width="1" height="20" fill="#C0C0C0"/>
<rect x="930" y="428" width="1" height="26" fill="#C0C0C0"/>
<rect x="938" y="425" width="1" height="29" fill="#C0C0C0"/>
<rect x="946" y="440" width="1" height="14" fill="#C0C0C0"/>
<rect x="954" y="450" width="1" height="4" fill="#C0C0C0"/>
<rect x="962" y="453" width="1" height="4" fill="#C0C0C0"/>
<rect x="970" y="453" width="1" height="10" fill="#C0C0C0"/>
<rect x="978" y="453" width="1" height="17" fill="#C0C0C0"/>
<rect x="986" y="453" width="1" height="23" fill="#C0C0C0"/>
<rect x="994" y="453" width="1" height="29" fill="#C0C0C0"/>
<rect x="1002" y="453" width="1" height="32" fill="#C0C0C0"/>
<rect x="1010" y="453" width="1" height="39" fill="#C0C0C0"/>
<rect x="1018" y="453" width="1" height="44" fill="#C0C0C0"/>
<rect x="1026" y="453" width="1" height="49" fill="#C0C0C0"/>
<rect x="1034" y="453" width="1" height="54" fill="#C0C0C0"/>
<rect x="1042" y="453" width="1" height="61" fill="#C0C0C0"/>
<rect x="1050" y="453" width="1" height="71" fill="#C0C0C0"/>
<rect x="1058" y="453" width="1" height="76" fill="#C0C0C0"/>
<rect x="1066" y="453" width="1" height="78" fill="#C0C0C0"/>
<rect x="1074" y="453" width="1" height="78" fill="#C0C0C0"/>
<rect x="1082" y="453" width="1" height="77" fill="#C0C0C0"/>
<rect x="1090" y="453" width="1" height="79" fill="#C0C0C0"/>
<rect x="1098" y="453" width="1" height="79" fill="#C0C0C0"/>
<rect x="1106" y="453" width="1" height="78" fill="#C0C0C0"/>
<rect x="1114" y="453" width="1" height="73" fill="#C0C0C0"/>
<rect x="1122" y="453" width="1" height="70" fill="#C0C0C0"/>
<rect x="1130" y="453" width="1" height="62" fill="#C0C0C0"/>
<rect x="1138" y="453" width="1" height="58" fill="#C0C0C0"/>
<rect x="1146" y="453" width="1" height="65" fill="#C0C0C0"/>
<rect x="1154" y="453" width="1" height="69" fill="#C0C0C0"/>
<rect x="1162" y="453" width="1" height="71" fill="#C0C0C0"/>
</g>
<path d="M2 474.5h2M4 475.5h1M8 477.5h2M10 478.5h3M16 480.5h1M17 481.5h3M20 482.5h1M24 483.5h1M25 484.5h2M27 485.5h2M32 486.5h2M34 487.5h3M40 488.5h5M48 488.5h5M56 487.5h3M59 486.5h2M64 485.5h3M67 484.5h2M72 483.5h1M73 482.5h3M76 481.5h1M80 480.5h3M83 479.5h2M88 478.5h3M91 477.5h2M96 476.5h4M100 475.5h1M104 474.5h5M112 473.5h5M120 474.5h5M128 475.5h5M136 476.5h2M138 477.5h2M140 478.5h1M144 479.5h1M145 480.5h2M147 481.5h2M152 483.5h2M154 484.5h2M156 485.5h1M160 486.5h2M162 487.5h3M168 489.5h4M172 490.5h1M176 491.5h1M177 492.5h4M184 493.5h1M185 494.5h4M192 495.5h5M200 496.5h5M208 496.5h5M216 495.5h4M220 494.5h1M224 493.5h4M228 492.5h1M232 491.5h3M235 490.5h2M240 489.5h1M241 488.5h3M244 487.5h1M248 486.5h3M251 485.5h2M256 483.5h3M259 482.5h2M264 481.5h1M265 480.5h3M268 479.5h1M272 478.5h3M275 477.5h2M280 476.5h5M288 475.5h5M296 476.5h5M304 476.5h5M312 477.5h1M313 478.5h4M320 479.5h1M321 480.5h4M328 481.5h5M336 482.5h5M344 482.5h1M345 483.5h3M348 482.5h1M352 482.5h5M360 481.5h3M363 480.5h2M368 479.5h3M371 478.5h2M376 476.5h2M378 475.5h3M384 473.5h2M386 472.5h2M388 471.5h1M392 469.5h1M393 468.5h2M395 467.5h2M400 465.5h1M401 464.5h2M403 463.5h1M404 462.5h1M408 460.5h1M409 459.5h2M411 458.5h2M416 456.5h1M417 455.5h2M419 454.5h2M424 451.5h2M426 450.5h2M428 449.5h1M432 447.5h1M433 446.5h2M435 445.5h2M440 443.5h2M442 442.5h2M444 441.5h1M448 440.5h1M449 439.5h3M452 438.5h1M456 437.5h1M457 436.5h2M459 435.5h2M464 434.5h5M472 433.5h4M476 434.5h1M480 434.5h4M484 435.5h1M488 435.5h1M489 436.5h3M492 437.5h1M496 438.5h1M497 439.5h2M499 440.5h2M504 441.5h1M505 442.5h2M507 443.5h2M512 445.5h1M513 446.5h2M515 447.5h1M516 448.5h1M520 452.5h1M521 453.5h1M522 454.5h1M523.5 455v2M524 457.5h1M528 461.5h1M529 462.5h1M530 463.5h1M531.5 464v2M532 466.5h1M536.5 470v2M537 472.5h1M538 473.5h1M539 474.5h1M540.5 475v2M544 480.5h1M545.5 481v2M546 483.5h1M547 484.5h1M548 485.5h1M552 489.5h1M553 490.5h1M554 491.5h1M555.5 492v2M556 494.5h1M560 498.5h1M561 499.5h1M562 500.5h1M563 501.5h1M564 502.5h1M568 506.5h1M569 507.5h1M570 508.5h1M571 509.5h1M572 510.5h1M576 514.5h1M577 515.5h1M578 516.5h1M579 517.5h2M584 519.5h2M586 520.5h2M588 521.5h1M592 523.5h2M594 524.5h3M600 525.5h5M608 525.5h1M609 526.5h4M616 526.5h5M624 527.5h5M632 527.5h5M640 527.5h5M648 528.5h5M656 529.5h5M664 530.5h5M672 531.5h5M680 531.5h4M684 530.5h1M688 529.5h3M691 528.5h2M696 526.5h1M697 525.5h2M699 524.5h2M704 522.5h2M706 521.5h2M708 520.5h1M712 518.5h2M714 517.5h1M715 516.5h2M720 512.5h2M722 511.5h1M723 510.5h1M724 509.5h1M728 506.5h2M730 505.5h1M731 504.5h2M736 501.5h1M737 500.5h1M738 499.5h1M739 498.5h2M744 495.5h2M746 494.5h2M748 493.5h1M752 490.5h1M753 489.5h1M754 488.5h3M760 486.5h4M764 485.5h1M768 484.5h5M776 484.5h5M784 485.5h4M788 486.5h1M792 487.5h1M793 488.5h2M795 489.5h2M800 490.5h1M801 491.5h2M803 492.5h2M808 494.5h1M809 495.5h2M811 496.5h2M816 498.5h1M817 499.5h2M819 500.5h2M824 502.5h2M826 503.5h3M832 504.5h5M840 505.5h5M848 504.5h3M851 503.5h2M856 502.5h3M859 501.5h2M864 500.5h1M865 499.5h2M867 498.5h2M872 496.5h3M875 495.5h2M880 493.5h1M881 492.5h3M884 491.5h1M888 490.5h1M889 489.5h2M891 488.5h2M896 486.5h1M897 485.5h2M899 484.5h2M904 482.5h1M905 481.5h2M907 480.5h1M908 479.5h1M912 477.5h1M913 476.5h1M914 475.5h1M915 474.5h1M916 473.5h1M920 470.5h1M921 469.5h1M922 468.5h1M923 467.5h1M924 466.5h1M928 462.5h1M929 461.5h2M931 460.5h1M932 459.5h1M936 456.5h1M937 455.5h1M938 454.5h2M940 453.5h1M944 451.5h1M945 450.5h3M948 449.5h1M952 448.5h1M953 447.5h3M956 446.5h1M960 445.5h5M968 444.5h5M976 445.5h4M980 446.5h1M984 448.5h2M986 449.5h2M988 450.5h1M992 452.5h1M993 453.5h1M994 454.5h2M996 455.5h1M1000 459.5h1M1001 460.5h1M1002 461.5h1M1003 462.5h1M1004 463.5h1M1008 466.5h1M1009 467.5h1M1010 468.5h1M1011 469.5h1M1012 470.5h1M1016 473.5h1M1017 474.5h1M1018 475.5h1M1019 476.5h2M1024 479.5h2M1026 480.5h1M1027 481.5h2M1032 484.5h1M1033 485.5h1M1034 486.5h2M1036 487.5h1M1040 490.5h1M1041 491.5h1M1042 492.5h1M1043 493.5h2M1048 496.5h1M1049 497.5h1M1050 498.5h1M1051 499.5h2M1056 502.5h1M1057 503.5h1M1058 504.5h2M1060 505.5h1M1064 507.5h1M1065 508.5h1M1066 509.5h2M1068 510.5h1M1072 512.5h1M1073 513.5h1M1074 514.5h2M1076 515.5h1M1080 517.5h2M1082 518.5h2M1084 519.5h1M1088 521.5h2M1090 522.5h2M1092 523.5h1M1096 525.5h2M1098 526.5h3M1104 527.5h1M1105 528.5h4M1112 529.5h5M1120 529.5h5M1128 528.5h3M1131 527.5h2M1136 526.5h1M1137 525.5h4M1144 524.5h5M1152 523.5h5M1160 522.5h3" stroke="#FF0000" stroke-width="1" fill="none" shape-rendering="crispEdges"/>
<g shape-rendering="crispEdges">
<rect x="3" y="584" width="3" height="1" fill="#C0C0C0"/>
<rect x="9" y="584" width="3" height="1" fill="#C0C0C0"/>
<rect x="15" y="584" width="3" height="1" fill="#C0C0C0"/>
<rect x="21" y="584" width="3" height="1" fill="#C0C0C0"/>
<rect x="27" y="584" width="3" height="1" fill="#C0C0C0"/>
<rect x="33" y="584" width="3" height="1" fill="#C0C0C0"/>
<rect x="39" y="584" width="3" height="1" fill="#C0C0C0"/>
<rect x="45" y="584" width="3" height="1" fill="#C0C0C0"/>
<rect x="51" y="584" width="3" height="1" fill="#C0C0C0"/>
<rect x="57" y="584" width="3" height="1" fill="#C0C0C0"/>
<rect x="63" y="584" width="3" height="1" fill="#C0C0C0"/>
<rect x="69" y="584" width="3" height="1" fill="#C0C0C0"/>
<rect x="75" y="584" width="3" height="1" fill="#C0C0C0"/>
<rect x="81" y="584" width="3" height="1" fill="#C0C0C0"/>
<rect x="87" y="584" width="3" height="1" fill="#C0C0C0"/>
<rect x="93" y="584" width="3" height="1" fill="#C0C0C0"/>
<rect x="99" y="584" width="3" height="1" fill="#C0C0C0"/>
<rect x="105" y="584" width="3" height="1" fill="#C0C0C0"/>
<rect x="111" y="584" width="3" height="1" fill="#C0C0C0"/>
<rect x="117" y="584" width="3" height="1" fill="#C0C0C0"/>
<rect x="123" y="584" width="3" height="1" fill="#C0C0C0"/>
<rect x="129" y="584" width="3" height="1" fill="#C0C0C0"/>
<rect x="135" y="584" width="3" height="1" fill="#C0C0C0"/>
<rect x="141" y="584" width="3" height="1" fill="#C0C0C0"/>
<rect x="147" y="584" width="3" height="1" fill="#C0C0C0"/>
<rect x="153" y="584" width="3" height="1" fill="#C0C0C0"/>
<rect x="159" y="584" width="3" height="1" fill="#C0C0C0"/>
<rect x="165" y="584" width="3" height="1" fill="#C0C0C0"/>
<rect x="171" y="584" width="3" height="1" fill="#C0C0C0"/>
<rect x="177" y="584" width="3" height="1" fill="#C0C0C0"/>
<rect x="183" y="584" width="3" height="1" fill="#C0C0C0"/>
<rect x="189" y="584" width="3" height="1" fill="#C0C0C0"/>
<rect x="195" y="584" width="3" height="1" fill="#C0C0C0"/>
<rect x="201" y="584" width="3" height="1" fill="#C0C0C0"/>
<rect x="207" y="584" width="3" height="1" fill="#C0C0C0"/>
<rect x="213" y="584" width="3" height="1" fill="#C0C0C0"/>
<rect x="219" y="584" width="3" height="1" fill="#C0C0C0"/>
<rect x="225" y="584" width="3" height="1" fill="#C0C0C0"/>
<rect x="231" y="584" width="3" height="1" fill="#C0C0C0"/>
<rect x="237" y="584" width="3" height="1" fill="#C0C0C0"/>
<rect x="243" y="584" width="3" height="1" fill="#C0C0C0"/>
<rect x="249" y="584" width="3" height="1" fill="#C0C0C0"/>
<rect x="255" y="584" width="3" height="1" fill="#C0C0C0"/>
<rect x="261" y="584" width="3" height="1" fill="#C0C0C0"/>
<rect x="267" y="584" width="3" height="1" fill="#C0C0C0"/>
<rect x="273" y="584" width="3" height="1" fill="#C0C0C0"/>
<rect x="279" y="584" width="3" height="1" fill="#C0C0C0"/>
<rect x="285" y="584" width="3" height="1" fill="#C0C0C0"/>
<rect x="291" y="584" width="3" height="1" fill="#C0C0C0"/>
<rect x="297" y="584" width="3" height="1" fill="#C0C0C0"/>
<rect x="303" y="584" width="3" height="1" fill="#C0C0C0"/>
<rect x="309" y="584" width="3" height="1" fill="#C0C0C0"/>
<rect x="315" y="584" width="3" height="1" fill="#C0C0C0"/>
<rect x="321" y="584" width="3" height="1" fill="#C0C0C0"/>
<rect x="327" y="584" width="3" height="1" fill="#C0C0C0"/>
<rect x="333" y="584" width="3" height="1" fill="#C0C0C0"/>
<rect x="339" y="584" width="3" height="1" fill="#C0C0C0"/>
<rect x="345" y="584" width="3" height="1" fill="#C0C0C0"/>
<rect x="351" y="584" width="3" height="1" fill="#C0C0C0"/>
<rect x="357" y="584" width="3" height="1" fill="#C0C0C0"/>
<rect x="363" y="584" width="3" height="1" fill="#C0C0C0"/>
<rect x="369" y="584" width="3" height="1" fill="#C0C0C0"/>
<rect x="375" y="584" width="3" height="1" fill="#C0C0C0"/>
<rect x="381" y="584" width="3" height="1" fill="#C0C0C0"/>
<rect x="387" y="584" width="3" height="1" fill="#C0C0C0"/>
<rect x="393" y="584" width="3" height="1" fill="#C0C0C0"/>
<rect x="399" y="584" width="3" height="1" fill="#C0C0C0"/>
<rect x="405" y="584" width="3" height="1" fill="#C0C0C0"/>
<rect x="411" y="584" width="3" height="1" fill="#C0C0C0"/>
<rect x="417" y="584" width="3" height="1" fill="#C0C0C0"/>
<rect x="423" y="584" width="3" height="1" fill="#C0C0C0"/>
<rect x="429" y="584" width="3" height="1" fill="#C0C0C0"/>
<rect x="435" y="584" width="3" height="1" fill="#C0C0C0"/>
<rect x="441" y="584" width="3" height="1" fill="#C0C0C0"/>
<rect x="447" y="584" width="3" height="1" fill="#C0C0C0"/>
<rect x="453" y="584" width="3" height="1" fill="#C0C0C0"/>
<rect x="459" y="584" width="3" height="1" fill="#C0C0C0"/>
<rect x="465" y="584" width="3" height="1" fill="#C0C0C0"/>
<rect x="471" y="584" width="3" height="1" fill="#C0C0C0"/>
<rect x="477" y="584" width="3" height="1" fill="#C0C0C0"/>
<rect x="483" y="584" width="3" height="1" fill="#C0C0C0"/>
<rect x="489" y="584" width="3" height="1" fill="#C0C0C0"/>
<rect x="495" y="584" width="3" height="1" fill="#C0C0C0"/>
<rect x="501" y="584" width="3" height="1" fill="#C0C0C0"/>
<rect x="507" y="584" width="3" height="1" fill="#C0C0C0"/>
<rect x="513" y="584" width="3" height="1" fill="#C0C0C0"/>
<rect x="519" y="584" width="3" height="1" fill="#C0C0C0"/>
<rect x="525" y="584" width="3" height="1" fill="#C0C0C0"/>
<rect x="531" y="584" width="3" height="1" fill="#C0C0C0"/>
<rect x="537" y="584" width="3" height="1" fill="#C0C0C0"/>
<rect x="543" y="584" width="3" height="1" fill="#C0C0C0"/>
<rect x="549" y="584" width="3" height="1" fill="#C0C0C0"/>
<rect x="555" y="584" width="3" height="1" fill="#C0C0C0"/>
<rect x="561" y="584" width="3" height="1" fill="#C0C0C0"/>
<rect x="567" y="584" width="3" height="1" fill="#C0C0C0"/>
<rect x="573" y="584" width="3" height="1" fill="#C0C0C0"/>
<rect x="579" y="584" width="3" height="1" fill="#C0C0C0"/>
<rect x="585" y="584" width="3" height="1" fill="#C0C0C0"/>
<rect x="591" y="584" width="3" height="1" fill="#C0C0C0"/>
<rect x="597" y="584" width="3" height="1" fill="#C0C0C0"/>
<rect x="603" y="584" width="3" height="1" fill="#C0C0C0"/>
<rect x="609" y="584" width="3" height="1" fill="#C0C0C0"/>
<rect x="615" y="584" width="3" height="1" fill="#C0C0C0"/>
<rect x="621" y="584" width="3" height="1" fill="#C0C0C0"/>
<rect x="627" y="584" width="3" height="1" fill="#C0C0C0"/>
<rect x="633" y="584" width="3" height="1" fill="#C0C0C0"/>
<rect x="639" y="584" width="3" height="1" fill="#C0C0C0"/>
<rect x="645" y="584" width="3" height="1" fill="#C0C0C0"/>
<rect x="651" y="584" width="3" height="1" fill="#C0C0C0"/>
<rect x="657" y="584" width="3" height="1" fill="#C0C0C0"/>
<rect x="663" y="584" width="3" height="1" fill="#C0C0C0"/>
<rect x="669" y="584" width="3" height="1" fill="#C0C0C0"/>
<rect x="675" y="584" width="3" height="1" fill="#C0C0C0"/>
<rect x="681" y="584" width="3" height="1" fill="#C0C0C0"/>
<rect x="687" y="584" width="3" height="1" fill="#C0C0C0"/>
<rect x="693" y="584" width="3" height="1" fill="#C0C0C0"/>
<rect x="699" y="584" width="3" height="1" fill="#C0C0C0"/>
<rect x="705" y="584" width="3" height="1" fill="#C0C0C0"/>
<rect x="711" y="584" width="3" height="1" fill="#C0C0C0"/>
<rect x="717" y="584" width="3" height="1" fill="#C0C0C0"/>
<rect x="723" y="584" width="3" height="1" fill="#C0C0C0"/>
<rect x="729" y="584" width="3" height="1" fill="#C0C0C0"/>
<rect x="735" y="584" width="3" height="1" fill="#C0C0C0"/>
<rect x="741" y="584" width="3" height="1" fill="#C0C0C0"/>
<rect x="747" y="584" width="3" height="1" fill="#C0C0C0"/>
<rect x="753" y="584" width="3" height="1" fill="#C0C0C0"/>
<rect x="759" y="584" width="3" height="1" fill="#C0C0C0"/>
<rect x="765" y="584" width="3" height="1" fill="#C0C0C0"/>
<rect x="771" y="584" width="3" height="1" fill="#C0C0C0"/>
<rect x="777" y="584" width="3" height="1" fill="#C0C0C0"/>
<rect x="783" y="584" width="3" height="1" fill="#C0C0C0"/>
<rect x="789" y="584" width="3" height="1" fill="#C0C0C0"/>
<rect x="795" y="584" width="3" height="1" fill="#C0C0C0"/>
<rect x="801" y="584" width="3" height="1" fill="#C0C0C0"/>
<rect x="807" y="584" width="3" height="1" fill="#C0C0C0"/>
<rect x="813" y="584" width="3" height="1" fill="#C0C0C0"/>
<rect x="819" y="584" width="3" height="1" fill="#C0C0C0"/>
<rect x="825" y="584" width="3" height="1" fill="#C0C0C0"/>
<rect x="831" y="584" width="3" height="1" fill="#C0C0C0"/>
<rect x="837" y="584" width="3" height="1" fill="#C0C0C0"/>
<rect x="843" y="584" width="3" height="1" fill="#C0C0C0"/>
<rect x="849" y="584" width="3" height="1" fill="#C0C0C0"/>
<rect x="855" y="584" width="3" height="1" fill="#C0C0C0"/>
<rect x="861" y="584" width="3" height="1" fill="#C0C0C0"/>
<rect x="867" y="584" width="3" height="1" fill="#C0C0C0"/>
<rect x="873" y="584" width="3" height="1" fill="#C0C0C0"/>
<rect x="879" y="584" width="3" height="1" fill="#C0C0C0"/>
<rect x="885" y="584" width="3" height="1" fill="#C0C0C0"/>
<rect x="891" y="584" width="3" height="1" fill="#C0C0C0"/>
<rect x="897" y="584" width="3" height="1" fill="#C0C0C0"/>
<rect x="903" y="584" width="3" height="1" fill="#C0C0C0"/>
<rect x="909" y="584" width="3" height="1" fill="#C0C0C0"/>
<rect x="915" y="584" width="3" height="1" fill="#C0C0C0"/>
<rect x="921" y="584" width="3" height="1" fill="#C0C0C0"/>
<rect x="927" y="584" width="3" height="1" fill="#C0C0C0"/>
<rect x="933" y="584" width="3" height="1" fill="#C0C0C0"/>
<rect x="939" y="584" width="3" height="1" fill="#C0C0C0"/>
<rect x="945" y="584" width="3" height="1" fill="#C0C0C0"/>
<rect x="951" y="584" width="3" height="1" fill="#C0C0C0"/>
<rect x="957" y="584" width="3" height="1" fill="#C0C0C0"/>
<rect x="963" y="584" width="3" height="1" fill="#C0C0C0"/>
<rect x="969" y="584" width="3" height="1" fill="#C0C0C0"/>
<rect x="975" y="584" width="3" height="1" fill="#C0C0C0"/>
<rect x="981" y="584" width="3" height="1" fill="#C0C0C0"/>
<rect x="987" y="584" width="3" height="1" fill="#C0C0C0"/>
<rect x="993" y="584" width="3" height="1" fill="#C0C0C0"/>
<rect x="999" y="584" width="3" height="1" fill="#C0C0C0"/>
<rect x="1005" y="584" width="3" height="1" fill="#C0C0C0"/>
<rect x="1011" y="584" width="3" height="1" fill="#C0C0C0"/>
<rect x="1017" y="584" width="3" height="1" fill="#C0C0C0"/>
<rect x="1023" y="584" width="3" height="1" fill="#C0C0C0"/>
<rect x="1029" y="584" width="3" height="1" fill="#C0C0C0"/>
<rect x="1035" y="584" width="3" height="1" fill="#C0C0C0"/>
<rect x="1041" y="584" width="3" height="1" fill="#C0C0C0"/>
<rect x="1047" y="584" width="3" height="1" fill="#C0C0C0"/>
<rect x="1053" y="584" width="3" height="1" fill="#C0C0C0"/>
<rect x="1059" y="584" width="3" height="1" fill="#C0C0C0"/>
<rect x="1065" y="584" width="3" height="1" fill="#C0C0C0"/>
<rect x="1071" y="584" width="3" height="1" fill="#C0C0C0"/>
<rect x="1077" y="584" width="3" height="1" fill="#C0C0C0"/>
<rect x="1083" y="584" width="3" height="1" fill="#C0C0C0"/>
<rect x="1089" y="584" width="3" height="1" fill="#C0C0C0"/>
<rect x="1095" y="584" width="3" height="1" fill="#C0C0C0"/>
<rect x="1101" y="584" width="3" height="1" fill="#C0C0C0"/>
<rect x="1107" y="584" width="3" height="1" fill="#C0C0C0"/>
<rect x="1113" y="584" width="3" height="1" fill="#C0C0C0"/>
<rect x="1119" y="584" width="3" height="1" fill="#C0C0C0"/>
<rect x="1125" y="584" width="3" height="1" fill="#C0C0C0"/>
<rect x="1131" y="584" width="3" height="1" fill="#C0C0C0"/>
<rect x="1137" y="584" width="3" height="1" fill="#C0C0C0"/>
<rect x="1143" y="584" width="3" height="1" fill="#C0C0C0"/>
<rect x="1149" y="584" width="3" height="1" fill="#C0C0C0"/>
<rect x="1155" y="584" width="3" height="1" fill="#C0C0C0"/>
<rect x="1161" y="584" width="3" height="1" fill="#C0C0C0"/>
<rect x="1167" y="584" width="3" height="1" fill="#C0C0C0"/>
<rect x="1173" y="584" width="3" height="1" fill="#C0C0C0"/>
<rect x="1179" y="584" width="3" height="1" fill="#C0C0C0"/>
<rect x="3" y="632" width="3" height="1" fill="#C0C0C0"/>
<rect x="9" y="632" width="3" height="1" fill="#C0C0C0"/>
<rect x="15" y="632" width="3" height="1" fill="#C0C0C0"/>
<rect x="21" y="632" width="3" height="1" fill="#C0C0C0"/>
<rect x="27" y="632" width="3" height="1" fill="#C0C0C0"/>
<rect x="33" y="632" width="3" height="1" fill="#C0C0C0"/>
<rect x="39" y="632" width="3" height="1" fill="#C0C0C0"/>
<rect x="45" y="632" width="3" height="1" fill="#C0C0C0"/>
<rect x="51" y="632" width="3" height="1" fill="#C0C0C0"/>
<rect x="57" y="632" width="3" height="1" fill="#C0C0C0"/>
<rect x="63" y="632" width="3" height="1" fill="#C0C0C0"/>
<rect x="69" y="632" width="3" height="1" fill="#C0C0C0"/>
<rect x="75" y="632" width="3" height="1" fill="#C0C0C0"/>
<rect x="81" y="632" width="3" height="1" fill="#C0C0C0"/>
<rect x="87" y="632" width="3" height="1" fill="#C0C0C0"/>
<rect x="93" y="632" width="3" height="1" fill="#C0C0C0"/>
<rect x="99" y="632" width="3" height="1" fill="#C0C0C0"/>
<rect x="105" y="632" width="3" height="1" fill="#C0C0C0"/>
<rect x="111" y="632" width="3" height="1" fill="#C0C0C0"/>
<rect x="117" y="632" width="3" height="1" fill="#C0C0C0"/>
<rect x="123" y="632" width="3" height="1" fill="#C0C0C0"/>
<rect x="129" y="632" width="3" height="1" fill="#C0C0C0"/>
<rect x="135" y="632" width="3" height="1" fill="#C0C0C0"/>
<rect x="141" y="632" width="3" height="1" fill="#C0C0C0"/>
<rect x="147" y="632" width="3" height="1" fill="#C0C0C0"/>
<rect x="153" y="632" width="3" height="1" fill="#C0C0C0"/>
<rect x="159" y="632" width="3" height="1" fill="#C0C0C0"/>
<rect x="165" y="632" width="3" height="1" fill="#C0C0C0"/>
<rect x="171" y="632" width="3" height="1" fill="#C0C0C0"/>
<rect x="177" y="632" width="3" height="1" fill="#C0C0C0"/>
<rect x="183" y="632" width="3" height="1" fill="#C0C0C0"/>
<rect x="189" y="632" width="3" height="1" fill="#C0C0C0"/>
<rect x="195" y="632" width="3" height="1" fill="#C0C0C0"/>
<rect x="201" y="632" width="3" height="1" fill="#C0C0C0"/>
<rect x="207" y="632" width="3" height="1" fill="#C0C0C0"/>
<rect x="213" y="632" width="3" height="1" fill="#C0C0C0"/>
<rect x="219" y="632" width="3" height="1" fill="#C0C0C0"/>
<rect x="225" y="632" width="3" height="1" fill="#C0C0C0"/>
<rect x="231" y="632" width="3" height="1" fill="#C0C0C0"/>
<rect x="237" y="632" width="3" height="1" fill="#C0C0C0"/>
<rect x="243" y="632" width="3" height="1" fill="#C0C0C0"/>
<rect x="249" y="632" width="3" height="1" fill="#C0C0C0"/>
<rect x="255" y="632" width="3" height="1" fill="#C0C0C0"/>
<rect x="261" y="632" width="3" height="1" fill="#C0C0C0"/>
<rect x="267" y="632" width="3" height="1" fill="#C0C0C0"/>
<rect x="273" y="632" width="3" height="1" fill="#C0C0C0"/>
<rect x="279" y="632" width="3" height="1" fill="#C0C0C0"/>
<rect x="285" y="632" width="3" height="1" fill="#C0C0C0"/>
<rect x="291" y="632" width="3" height="1" fill="#C0C0C0"/>
<rect x="297" y="632" width="3" height="1" fill="#C0C0C0"/>
<rect x="303" y="632" width="3" height="1" fill="#C0C0C0"/>
<rect x="309" y="632" width="3" height="1" fill="#C0C0C0"/>
<rect x="315" y="632" width="3" height="1" fill="#C0C0C0"/>
<rect x="321" y="632" width="3" height="1" fill="#C0C0C0"/>
<rect x="327" y="632" width="3" height="1" fill="#C0C0C0"/>
<rect x="333" y="632" width="3" height="1" fill="#C0C0C0"/>
<rect x="339" y="632" width="3" height="1" fill="#C0C0C0"/>
<rect x="345" y="632" width="3" height="1" fill="#C0C0C0"/>
<rect x="351" y="632" width="3" height="1" fill="#C0C0C0"/>
<rect x="357" y="632" width="3" height="1" fill="#C0C0C0"/>
<rect x="363" y="632" width="3" height="1" fill="#C0C0C0"/>
<rect x="369" y="632" width="3" height="1" fill="#C0C0C0"/>
<rect x="375" y="632" width="3" height="1" fill="#C0C0C0"/>
<rect x="381" y="632" width="3" height="1" fill="#C0C0C0"/>
<rect x="387" y="632" width="3" height="1" fill="#C0C0C0"/>
<rect x="393" y="632" width="3" height="1" fill="#C0C0C0"/>
<rect x="399" y="632" width="3" height="1" fill="#C0C0C0"/>
<rect x="405" y="632" width="3" height="1" fill="#C0C0C0"/>
<rect x="411" y="632" width="3" height="1" fill="#C0C0C0"/>
<rect x="417" y="632" width="3" height="1" fill="#C0C0C0"/>
<rect x="423" y="632" width="3" height="1" fill="#C0C0C0"/>
<rect x="429" y="632" width="3" height="1" fill="#C0C0C0"/>
<rect x="435" y="632" width="3" height="1" fill="#C0C0C0"/>
<rect x="441" y="632" width="3" height="1" fill="#C0C0C0"/>
<rect x="447" y="632" width="3" height="1" fill="#C0C0C0"/>
<rect x="453" y="632" width="3" height="1" fill="#C0C0C0"/>
<rect x="459" y="632" width="3" height="1" fill="#C0C0C0"/>
<rect x="465" y="632" width="3" height="1" fill="#C0C0C0"/>
<rect x="471" y="632" width="3" height="1" fill="#C0C0C0"/>
<rect x="477" y="632" width="3" height="1" fill="#C0C0C0"/>
<rect x="483" y="632" width="3" height="1" fill="#C0C0C0"/>
<rect x="489" y="632" width="3" height="1" fill="#C0C0C0"/>
<rect x="495" y="632" width="3" height="1" fill="#C0C0C0"/>
<rect x="501" y="632" width="3" height="1" fill="#C0C0C0"/>
<rect x="507" y="632" width="3" height="1" fill="#C0C0C0"/>
<rect x="513" y="632" width="3" height="1" fill="#C0C0C0"/>
<rect x="519" y="632" width="3" height="1" fill="#C0C0C0"/>
<rect x="525" y="632" width="3" height="1" fill="#C0C0C0"/>
<rect x="531" y="632" width="3" height="1" fill="#C0C0C0"/>
<rect x="537" y="632" width="3" height="1" fill="#C0C0C0"/>
<rect x="543" y="632" width="3" height="1" fill="#C0C0C0"/>
<rect x="549" y="632" width="3" height="1" fill="#C0C0C0"/>
<rect x="555" y="632" width="3" height="1" fill="#C0C0C0"/>
<rect x="561" y="632" width="3" height="1" fill="#C0C0C0"/>
<rect x="567" y="632" width="3" height="1" fill="#C0C0C0"/>
<rect x="573" y="632" width="3" height="1" fill="#C0C0C0"/>
<rect x="579" y="632" width="3" height="1" fill="#C0C0C0"/>
<rect x="585" y="632" width="3" height="1" fill="#C0C0C0"/>
<rect x="591" y="632" width="3" height="1" fill="#C0C0C0"/>
<rect x="597" y="632" width="3" height="1" fill="#C0C0C0"/>
<rect x="603" y="632" width="3" height="1" fill="#C0C0C0"/>
<rect x="609" y="632" width="3" height="1" fill="#C0C0C0"/>
<rect x="615" y="632" width="3" height="1" fill="#C0C0C0"/>
<rect x="621" y="632" width="3" height="1" fill="#C0C0C0"/>
<rect x="627" y="632" width="3" height="1" fill="#C0C0C0"/>
<rect x="633" y="632" width="3" height="1" fill="#C0C0C0"/>
<rect x="639" y="632" width="3" height="1" fill="#C0C0C0"/>
<rect x="645" y="632" width="3" height="1" fill="#C0C0C0"/>
<rect x="651" y="632" width="3" height="1" fill="#C0C0C0"/>
<rect x="657" y="632" width="3" height="1" fill="#C0C0C0"/>
<rect x="663" y="632" width="3" height="1" fill="#C0C0C0"/>
<rect x="669" y="632" width="3" height="1" fill="#C0C0C0"/>
<rect x="675" y="632" width="3" height="1" fill="#C0C0C0"/>
<rect x="681" y="632" width="3" height="1" fill="#C0C0C0"/>
<rect x="687" y="632" width="3" height="1" fill="#C0C0C0"/>
<rect x="693" y="632" width="3" height="1" fill="#C0C0C0"/>
<rect x="699" y="632" width="3" height="1" fill="#C0C0C0"/>
<rect x="705" y="632" width="3" height="1" fill="#C0C0C0"/>
<rect x="711" y="632" width="3" height="1" fill="#C0C0C0"/>
<rect x="717" y="632" width="3" height="1" fill="#C0C0C0"/>
<rect x="723" y="632" width="3" height="1" fill="#C0C0C0"/>
<rect x="729" y="632" width="3" height="1" fill="#C0C0C0"/>
<rect x="735" y="632" width="3" height="1" fill="#C0C0C0"/>
<rect x="741" y="632" width="3" height="1" fill="#C0C0C0"/>
<rect x="747" y="632" width="3" height="1" fill="#C0C0C0"/>
<rect x="753" y="632" width="3" height="1" fill="#C0C0C0"/>
<rect x="759" y="632" width="3" height="1" fill="#C0C0C0"/>
<rect x="765" y="632" width="3" height="1" fill="#C0C0C0"/>
<rect x="771" y="632" width="3" height="1" fill="#C0C0C0"/>
<rect x="777" y="632" width="3" height="1" fill="#C0C0C0"/>
<rect x="783" y="632" width="3" height="1" fill="#C0C0C0"/>
<rect x="789" y="632" width="3" height="1" fill="#C0C0C0"/>
<rect x="795" y="632" width="3" height="1" fill="#C0C0C0"/>
<rect x="801" y="632" width="3" height="1" fill="#C0C0C0"/>
<rect x="807" y="632" width="3" height="1" fill="#C0C0C0"/>
<rect x="813" y="632" width="3" height="1" fill="#C0C0C0"/>
<rect x="819" y="632" width="3" height="1" fill="#C0C0C0"/>
<rect x="825" y="632" width="3" height="1" fill="#C0C0C0"/>
<rect x="831" y="632" width="3" height="1" fill="#C0C0C0"/>
<rect x="837" y="632" width="3" height="1" fill="#C0C0C0"/>
<rect x="843" y="632" width="3" height="1" fill="#C0C0C0"/>
<rect x="849" y="632" width="3" height="1" fill="#C0C0C0"/>
<rect x="855" y="632" width="3" height="1" fill="#C0C0C0"/>
<rect x="861" y="632" width="3" height="1" fill="#C0C0C0"/>
<rect x="867" y="632" width="3" height="1" fill="#C0C0C0"/>
<rect x="873" y="632" width="3" height="1" fill="#C0C0C0"/>
<rect x="879" y="632" width="3" height="1" fill="#C0C0C0"/>
<rect x="885" y="632" width="3" height="1" fill="#C0C0C0"/>
<rect x="891" y="632" width="3" height="1" fill="#C0C0C0"/>
<rect x="897" y="632" width="3" height="1" fill="#C0C0C0"/>
<rect x="903" y="632" width="3" height="1" fill="#C0C0C0"/>
<rect x="909" y="632" width="3" height="1" fill="#C0C0C0"/>
<rect x="915" y="632" width="3" height="1" fill="#C0C0C0"/>
<rect x="921" y="632" width="3" height="1" fill="#C0C0C0"/>
<rect x="927" y="632" width="3" height="1" fill="#C0C0C0"/>
<rect x="933" y="632" width="3" height="1" fill="#C0C0C0"/>
<rect x="939" y="632" width="3" height="1" fill="#C0C0C0"/>
<rect x="945" y="632" width="3" height="1" fill="#C0C0C0"/>
<rect x="951" y="632" width="3" height="1" fill="#C0C0C0"/>
<rect x="957" y="632" width="3" height="1" fill="#C0C0C0"/>
<rect x="963" y="632" width="3" height="1" fill="#C0C0C0"/>
<rect x="969" y="632" width="3" height="1" fill="#C0C0C0"/>
<rect x="975" y="632" width="3" height="1" fill="#C0C0C0"/>
<rect x="981" y="632" width="3" height="1" fill="#C0C0C0"/>
<rect x="987" y="632" width="3" height="1" fill="#C0C0C0"/>
<rect x="993" y="632" width="3" height="1" fill="#C0C0C0"/>
<rect x="999" y="632" width="3" height="1" fill="#C0C0C0"/>
<rect x="1005" y="632" width="3" height="1" fill="#C0C0C0"/>
<rect x="1011" y="632" width="3" height="1" fill="#C0C0C0"/>
<rect x="1017" y="632" width="3" height="1" fill="#C0C0C0"/>
<rect x="1023" y="632" width="3" height="1" fill="#C0C0C0"/>
<rect x="1029" y="632" width="3" height="1" fill="#C0C0C0"/>
<rect x="1035" y="632" width="3" height="1" fill="#C0C0C0"/>
<rect x="1041" y="632" width="3" height="1" fill="#C0C0C0"/>
<rect x="1047" y="632" width="3" height="1" fill="#C0C0C0"/>
<rect x="1053" y="632" width="3" height="1" fill="#C0C0C0"/>
<rect x="1059" y="632" width="3" height="1" fill="#C0C0C0"/>
<rect x="1065" y="632" width="3" height="1" fill="#C0C0C0"/>
<rect x="1071" y="632" width="3" height="1" fill="#C0C0C0"/>
<rect x="1077" y="632" width="3" height="1" fill="#C0C0C0"/>
<rect x="1083" y="632" width="3" height="1" fill="#C0C0C0"/>
<rect x="1089" y="632" width="3" height="1" fill="#C0C0C0"/>
<rect x="1095" y="632" width="3" height="1" fill="#C0C0C0"/>
<rect x="1101" y="632" width="3" height="1" fill="#C0C0C0"/>
<rect x="1107" y="632" width="3" height="1" fill="#C0C0C0"/>
<rect x="1113" y="632" width="3" height="1" fill="#C0C0C0"/>
<rect x="1119" y="632" width="3" height="1" fill="#C0C0C0"/>
<rect x="1125" y="632" width="3" height="1" fill="#C0C0C0"/>
<rect x="1131" y="632" width="3" height="1" fill="#C0C0C0"/>
<rect x="1137" y="632" width="3" height="1" fill="#C0C0C0"/>
<rect x="1143" y="632" width="3" height="1" fill="#C0C0C0"/>
<rect x="1149" y="632" width="3" height="1" fill="#C0C0C0"/>
<rect x="1155" y="632" width="3" height="1" fill="#C0C0C0"/>
<rect x="1161" y="632" width="3" height="1" fill="#C0C0C0"/>
<rect x="1167" y="632" width="3" height="1" fill="#C0C0C0"/>
<rect x="1173" y="632" width="3" height="1" fill="#C0C0C0"/>
<rect x="1179" y="632" width="3" height="1" fill="#C0C0C0"/>
</g>
<path d="M2 634.5h1M3 633.5h1M4 632.5h1M5 631.5h1M6 630.5h1M7 629.5h1M8.5 627v2M9 626.5h1M10 625.5h2M12 624.5h2M14 623.5h2M16 622.5h3M19 623.5h2M21 624.5h1M22 625.5h1M23 626.5h1M24 627.5h1M25 628.5h1M26 629.5h1M27.5 627v2M28.5 624v3M29.5 622v2M30.5 620v2M31.5 618v2M32.5 616v2M33.5 614v2M34.5 612v2M35 612.5h2M37 611.5h9M46 612.5h4M50 613.5h1M51 612.5h1M52 611.5h2M54 610.5h1M55 609.5h1M56 608.5h2M58 607.5h5M63 608.5h6M69 609.5h3M72 610.5h3M75 611.5h1M76 612.5h2M78 613.5h1M79 614.5h2M81 615.5h1M82 616.5h2M84 617.5h2M86 618.5h2M88 619.5h3M91 620.5h1M92 621.5h2M94 622.5h2M96 623.5h2M98 624.5h1M99 623.5h1M100 622.5h1M101 621.5h1M102 620.5h1M103 619.5h2M105 618.5h1M106 617.5h2M108 618.5h1M109 619.5h1M110 620.5h2M112 621.5h1M113 622.5h2M115 623.5h1M116 624.5h2M118 625.5h2M120 626.5h2M122 627.5h2M124 628.5h2M126 629.5h2M128 630.5h2M130 631.5h7M137 632.5h3M140 633.5h3M143 634.5h2M145 635.5h3M148 634.5h4M152 633.5h3M155 632.5h1M156.5 630v2M157 629.5h1M158 628.5h1M159 627.5h1M160 626.5h1M161.5 624v2M162 623.5h1M163 622.5h1M164 621.5h1M165.5 619v2M166 618.5h1M167 617.5h1M168.5 615v2M169 614.5h1M170 613.5h1M171.5 614v2M172 616.5h1M173.5 617v2M174 619.5h1M175.5 620v2M176 622.5h1M177.5 623v2M178 625.5h1M179 624.5h2M181 623.5h2M183 622.5h2M185 621.5h2M187 620.5h3M190 619.5h3M193 618.5h11M204 619.5h2M206 620.5h3M209 621.5h2M211 620.5h1M212 619.5h1M213 618.5h2M215 617.5h1M216 616.5h1M217 615.5h1M218 614.5h1M219 613.5h2M221 612.5h1M222 611.5h2M224 610.5h2M226 609.5h6M232 610.5h3M235 609.5h5M240 608.5h7M247 609.5h6M253 610.5h4M257 611.5h3M260 612.5h1M261 613.5h2M263 614.5h2M265 615.5h1M266 616.5h1M267 617.5h2M269 618.5h1M270 619.5h1M271 620.5h1M272 621.5h1M273 622.5h1M274 623.5h9M283 624.5h2M285 625.5h1M286 626.5h1M287 627.5h2M289 628.5h1M290 629.5h2M292 628.5h2M294 627.5h3M297 626.5h10M307 625.5h3M310 624.5h2M312 623.5h3M315 622.5h3M318 621.5h3M321 620.5h3M324 619.5h3M327 618.5h2M329 617.5h2M331 616.5h1M332 615.5h1M333 614.5h1M334 613.5h1M335 612.5h1M336 611.5h1M337 610.5h1M338 609.5h3M341 610.5h4M345 611.5h4M349 612.5h4M353 613.5h3M356 614.5h3M359 615.5h2M361 616.5h2M363.5 613v3M364.5 611v2M365.5 609v2M366.5 607v2M367.5 604v3M368.5 602v2M369.5 600v2M370.5 598v2M371 598.5h1M372 597.5h2M374 596.5h3M377 595.5h2M379 596.5h2M381 597.5h2M383 598.5h1M384 599.5h2M386 600.5h11M397 601.5h4M401 602.5h2M403 601.5h1M404.5 599v2M405 598.5h1M406 597.5h1M407 596.5h1M408.5 594v2M409 593.5h1M410 592.5h2M412 593.5h2M414 594.5h2M416 595.5h2M418 596.5h2M420 597.5h2M422 598.5h2M424 599.5h2M426 600.5h1M427 599.5h2M429 598.5h2M431 597.5h2M433 596.5h10M443 595.5h2M445 594.5h2M447 593.5h2M449 592.5h2M451 591.5h5M456 590.5h2M458.5 590v2M459.5 592v2M460.5 594v2M461.5 596v2M462.5 598v2M463.5 600v2M464.5 602v2M465.5 604v2M466.5 606v2M467.5 608v2M468.5 610v2M469.5 612v2M470 614.5h1M471.5 615v2M472.5 617v2M473.5 619v2M474 621.5h3M477 622.5h5M482 623.5h6M488 624.5h3M491 623.5h2M493 622.5h1M494 621.5h2M496 620.5h1M497 619.5h7M504 620.5h2M506.5 620v2M507 622.5h1M508.5 623v2M509.5 625v2M510 627.5h1M511.5 628v2M512 630.5h1M513.5 631v2M514 633.5h1M515 634.5h2M517 635.5h2M519 636.5h1M520 637.5h2M522 638.5h5M527 639.5h6M533 640.5h6M539 641.5h5M544 642.5h4M548 641.5h4M552 640.5h4M556 641.5h3M559 642.5h3M562.5 642v2M563.5 639v3M564.5 636v3M565.5 633v3M566.5 630v3M567.5 627v3M568.5 624v3M569.5 621v3M570.5 619v2M571 619.5h5M576 618.5h7M583 617.5h4M587 618.5h2M589 619.5h2M591 620.5h1M592 621.5h2M594 622.5h2M596 621.5h4M600 620.5h3M603.5 621v2M604 623.5h1M605.5 624v2M606 626.5h1M607 627.5h1M608.5 628v2M609 630.5h1M610 631.5h2M612 632.5h3M615 633.5h2M617 634.5h4M621 633.5h6M627 632.5h1M628 631.5h2M630 630.5h1M631 629.5h1M632 628.5h2M634 627.5h2M636 626.5h2M638 625.5h3M641 624.5h3M644 625.5h3M647 626.5h2M649 627.5h2M651 626.5h2M653 625.5h2M655 624.5h2M657 623.5h3M660 624.5h2M662 625.5h2M664 626.5h2M666 627.5h1M667 626.5h1M668 625.5h1M669 624.5h1M670 623.5h1M671 622.5h1M672 621.5h1M673 620.5h1M674 619.5h9M683 618.5h1M684 617.5h2M686 616.5h1M687 615.5h1M688 614.5h2M690 613.5h9M699 614.5h2M701 615.5h2M703 616.5h1M704 617.5h2M706 618.5h1M707.5 616v2M708.5 614v2M709.5 612v2M710.5 610v2M711 609.5h1M712.5 607v2M713.5 605v2M714.5 603v2M715 604.5h1M716 605.5h1M717 606.5h2M719 607.5h1M720 608.5h1M721 609.5h1M722 610.5h1M723 609.5h3M726 608.5h3M729 607.5h5M734 606.5h5M739 607.5h2M741 608.5h1M742 609.5h1M743 610.5h2M745 611.5h1M746 612.5h2M748 613.5h2M750 614.5h2M752 615.5h2M754 616.5h1M755.5 617v2M756 619.5h1M757 620.5h1M758.5 621v2M759 623.5h1M760.5 624v2M761 626.5h1M762 627.5h4M766 626.5h6M772 625.5h2M774 624.5h3M777 623.5h4M781 624.5h4M785 625.5h3M788 626.5h4M792 627.5h5M797 626.5h4M801 625.5h2M803 624.5h1M804 623.5h2M806 622.5h1M807 621.5h1M808 620.5h2M810 619.5h9M819 618.5h2M821 617.5h2M823 616.5h2M825 615.5h6M831 616.5h5M836 617.5h3M839 618.5h2M841 619.5h2M843 618.5h1M844 617.5h1M845.5 615v2M846 614.5h1M847 613.5h1M848 612.5h1M849 611.5h1M850 610.5h2M852 611.5h3M855 612.5h2M857 613.5h3M860 612.5h4M864 611.5h8M872 612.5h5M877 611.5h7M884 610.5h4M888 609.5h3M891 610.5h2M893 611.5h1M894 612.5h2M896 613.5h1M897 614.5h1M898.5 614v2M899.5 610v4M900.5 607v3M901.5 604v3M902.5 601v3M903.5 598v3M904.5 595v3M905.5 592v3M906.5 590v2M907 590.5h1M908 591.5h3M911 592.5h2M913 593.5h5M918 592.5h6M924 593.5h2M926 594.5h3M929 595.5h2M931 596.5h3M934 597.5h3M937 598.5h1M938.5 598v2M939.5 600v3M940.5 603v3M941.5 606v2M942.5 608v3M943.5 611v3M944.5 614v3M945.5 617v3M946.5 620v2M947 620.5h2M949 619.5h2M951 618.5h2M953 617.5h12M965 618.5h4M969 619.5h6M975 620.5h7M982 621.5h6M988 622.5h3M991 623.5h3M994 624.5h1M995 623.5h2M997 622.5h2M999 621.5h2M1001 620.5h2M1003 621.5h2M1005 622.5h1M1006 623.5h1M1007 624.5h2M1009 625.5h1M1010 626.5h4M1014 625.5h7M1021 626.5h5M1026 627.5h2M1028 628.5h3M1031 629.5h2M1033 630.5h3M1036 631.5h3M1039 632.5h3M1042 633.5h2M1044 634.5h2M1046 635.5h2M1048 636.5h2M1050 637.5h1M1051 636.5h2M1053 635.5h2M1055 634.5h3M1058 633.5h3M1061 632.5h3M1064 631.5h3M1067 630.5h5M1072 629.5h11M1083 630.5h2M1085 631.5h2M1087 632.5h1M1088 633.5h2M1090 634.5h1M1091 633.5h2M1093 632.5h1M1094 631.5h2M1096 630.5h2M1098 629.5h5M1103 630.5h4M1107 629.5h1M1108 628.5h1M1109 627.5h1M1110 626.5h2M1112 625.5h1M1113 624.5h1M1114 623.5h6M1120 624.5h3M1123 623.5h1M1124.5 621v2M1125 620.5h1M1126 619.5h1M1127 618.5h1M1128.5 616v2M1129 615.5h1M1130 614.5h1M1131 615.5h2M1133 616.5h2M1135 617.5h2M1137 618.5h1M1138 619.5h1M1139.5 620v2M1140.5 622v2M1141 624.5h1M1142.5 625v2M1143.5 627v2M1144 629.5h1M1145.5 630v2M1146 632.5h1M1147 631.5h3M1150 630.5h3M1153 629.5h10" stroke="#0C86FF" stroke-width="1" fill="none" shape-rendering="crispEdges"/>
<g shape-rendering="crispEdges" fill="#000">
<rect x="1" y="4" width="1184" height="1" fill="#000"/>
<rect x="1" y="4" width="1" height="412" fill="#000"/>
<rect x="1184" y="4" width="1" height="412" fill="#000"/>
<rect x="1" y="415" width="1184" height="1" fill="#000"/>
<rect x="1" y="417" width="1184" height="1" fill="#000"/>
<rect x="1" y="417" width="1" height="129" fill="#000"/>
<rect x="1184" y="417" width="1" height="129" fill="#000"/>
<rect x="1" y="545" width="1184" height="1" fill="#000"/>
<rect x="1" y="547" width="1184" height="1" fill="#000"/>
<rect x="1" y="547" width="1" height="123" fill="#000"/>
<rect x="1184" y="547" width="1" height="123" fill="#000"/>
<rect x="1" y="669" width="1184" height="1" fill="#000"/>
<rect x="1185" y="16" width="2" height="1" fill="#000"/>
<rect x="1185" y="49" width="2" height="1" fill="#000"/>
<rect x="1185" y="82" width="2" height="1" fill="#000"/>
<rect x="1185" y="115" width="2" height="1" fill="#000"/>
<rect x="1185" y="148" width="2" height="1" fill="#000"/>
<rect x="1185" y="181" width="2" height="1" fill="#000"/>
<rect x="1185" y="214" width="2" height="1" fill="#000"/>
<rect x="1185" y="247" width="2" height="1" fill="#000"/>
<rect x="1185" y="280" width="2" height="1" fill="#000"/>
<rect x="1185" y="313" width="2" height="1" fill="#000"/>
<rect x="1185" y="346" width="2" height="1" fill="#000"/>
<rect x="1185" y="379" width="2" height="1" fill="#000"/>
<rect x="1185" y="412" width="2" height="1" fill="#000"/>
<rect x="1185" y="419" width="1" height="1" fill="#000"/>
<rect x="1185" y="453" width="1" height="1" fill="#000"/>
<rect x="1185" y="544" width="1" height="1" fill="#000"/>
<rect x="1185" y="549" width="1" height="1" fill="#000"/>
<rect x="1185" y="668" width="1" height="1" fill="#000"/>
<rect x="2" y="670" width="1" height="3" fill="#000"/>
<rect x="66" y="670" width="1" height="3" fill="#000"/>
<rect x="130" y="670" width="1" height="3" fill="#000"/>
<rect x="194" y="670" width="1" height="3" fill="#000"/>
<rect x="258" y="670" width="1" height="3" fill="#000"/>
<rect x="322" y="670" width="1" height="3" fill="#000"/>
<rect x="386" y="670" width="1" height="3" fill="#000"/>
<rect x="450" y="670" width="1" height="3" fill="#000"/>
<rect x="514" y="670" width="1" height="3" fill="#000"/>
<rect x="578" y="670" width="1" height="3" fill="#000"/>
<rect x="642" y="670" width="1" height="3" fill="#000"/>
<rect x="706" y="670" width="1" height="3" fill="#000"/>
<rect x="770" y="670" width="1" height="3" fill="#000"/>
<rect x="834" y="670" width="1" height="3" fill="#000"/>
<rect x="898" y="670" width="1" height="3" fill="#000"/>
<rect x="962" y="670" width="1" height="3" fill="#000"/>
<rect x="1026" y="670" width="1" height="3" fill="#000"/>
<rect x="1090" y="670" width="1" height="3" fill="#000"/>
<rect x="1154" y="670" width="1" height="3" fill="#000"/>
</g>
<text transform="translate(1190,19.7) scale(0.947,1)" font-size="9.5" fill="#000" stroke="#000" stroke-width="0.3" text-anchor="start" font-weight="normal" xml:space="preserve">4532.205</text>
<text transform="translate(1190,52.7) scale(0.947,1)" font-size="9.5" fill="#000" stroke="#000" stroke-width="0.3" text-anchor="start" font-weight="normal" xml:space="preserve">4480.890</text>
<text transform="translate(1190,85.7) scale(0.947,1)" font-size="9.5" fill="#000" stroke="#000" stroke-width="0.3" text-anchor="start" font-weight="normal" xml:space="preserve">4429.575</text>
<text transform="translate(1190,118.7) scale(0.947,1)" font-size="9.5" fill="#000" stroke="#000" stroke-width="0.3" text-anchor="start" font-weight="normal" xml:space="preserve">4378.260</text>
<text transform="translate(1190,151.7) scale(0.947,1)" font-size="9.5" fill="#000" stroke="#000" stroke-width="0.3" text-anchor="start" font-weight="normal" xml:space="preserve">4325.390</text>
<text transform="translate(1190,184.7) scale(0.947,1)" font-size="9.5" fill="#000" stroke="#000" stroke-width="0.3" text-anchor="start" font-weight="normal" xml:space="preserve">4274.075</text>
<text transform="translate(1190,217.7) scale(0.947,1)" font-size="9.5" fill="#000" stroke="#000" stroke-width="0.3" text-anchor="start" font-weight="normal" xml:space="preserve">4222.760</text>
<text transform="translate(1190,250.7) scale(0.947,1)" font-size="9.5" fill="#000" stroke="#000" stroke-width="0.3" text-anchor="start" font-weight="normal" xml:space="preserve">4171.445</text>
<text transform="translate(1190,283.7) scale(0.947,1)" font-size="9.5" fill="#000" stroke="#000" stroke-width="0.3" text-anchor="start" font-weight="normal" xml:space="preserve">4118.575</text>
<text transform="translate(1190,316.7) scale(0.947,1)" font-size="9.5" fill="#000" stroke="#000" stroke-width="0.3" text-anchor="start" font-weight="normal" xml:space="preserve">4067.260</text>
<text transform="translate(1190,349.7) scale(0.947,1)" font-size="9.5" fill="#000" stroke="#000" stroke-width="0.3" text-anchor="start" font-weight="normal" xml:space="preserve">4015.945</text>
<text transform="translate(1190,382.7) scale(0.947,1)" font-size="9.5" fill="#000" stroke="#000" stroke-width="0.3" text-anchor="start" font-weight="normal" xml:space="preserve">3964.630</text>
<text transform="translate(1190,415.7) scale(0.947,1)" font-size="9.5" fill="#000" stroke="#000" stroke-width="0.3" text-anchor="start" font-weight="normal" xml:space="preserve">3913.315</text>
<g shape-rendering="crispEdges">
<rect x="1187" y="159" width="44" height="11" fill="#FF0000"/>
<rect x="1187" y="223" width="44" height="11" fill="#FF0000"/>
<rect x="1187" y="312" width="44" height="11" fill="#00D200"/>
<rect x="1187" y="391" width="44" height="11" fill="#000"/>
</g>
<text transform="translate(1190,168) scale(0.947,1)" font-size="9.5" fill="#fff" stroke="#fff" stroke-width="0.3" text-anchor="start" font-weight="normal" xml:space="preserve">4300.000</text>
<text transform="translate(1190,232) scale(0.947,1)" font-size="9.5" fill="#fff" stroke="#fff" stroke-width="0.3" text-anchor="start" font-weight="normal" xml:space="preserve">4200.000</text>
<text transform="translate(1190,321) scale(0.947,1)" font-size="9.5" fill="#fff" stroke="#fff" stroke-width="0.3" text-anchor="start" font-weight="normal" xml:space="preserve">4060.000</text>
<text transform="translate(1190,400) scale(0.947,1)" font-size="9.5" fill="#fff" stroke="#fff" stroke-width="0.3" text-anchor="start" font-weight="normal" xml:space="preserve">3937.950</text>
<text transform="translate(1188,427.6) scale(0.947,1)" font-size="9.5" fill="#000" stroke="#000" stroke-width="0.3" text-anchor="start" font-weight="normal" xml:space="preserve">21.5973</text>
<text transform="translate(1188,456.6) scale(0.947,1)" font-size="9.5" fill="#000" stroke="#000" stroke-width="0.3" text-anchor="start" font-weight="normal" xml:space="preserve">0.00</text>
<text transform="translate(1188,541.6) scale(0.947,1)" font-size="9.5" fill="#000" stroke="#000" stroke-width="0.3" text-anchor="start" font-weight="normal" xml:space="preserve">-58.3794</text>
<text transform="translate(1188,557.6) scale(0.947,1)" font-size="9.5" fill="#000" stroke="#000" stroke-width="0.3" text-anchor="start" font-weight="normal" xml:space="preserve">100</text>
<text transform="translate(1187,587.6) scale(0.947,1)" font-size="9.5" fill="#000" stroke="#000" stroke-width="0.3" text-anchor="start" font-weight="normal" xml:space="preserve">70</text>
<text transform="translate(1187,635.6) scale(0.947,1)" font-size="9.5" fill="#000" stroke="#000" stroke-width="0.3" text-anchor="start" font-weight="normal" xml:space="preserve">30</text>
<text transform="translate(1188,665.6) scale(0.947,1)" font-size="9.5" fill="#000" stroke="#000" stroke-width="0.3" text-anchor="start" font-weight="normal" xml:space="preserve">0</text>
<text transform="translate(1.5,681.3) scale(0.998,1)" font-size="9.5" fill="#000" stroke="#000" stroke-width="0.3" text-anchor="start" font-weight="normal" xml:space="preserve">7 Apr 2022</text>
<text transform="translate(65.5,681.3) scale(0.998,1)" font-size="9.5" fill="#000" stroke="#000" stroke-width="0.3" text-anchor="start" font-weight="normal" xml:space="preserve">8 Apr 08:00</text>
<text transform="translate(129.5,681.3) scale(0.998,1)" font-size="9.5" fill="#000" stroke="#000" stroke-width="0.3" text-anchor="start" font-weight="normal" xml:space="preserve">11 Apr 16:00</text>
<text transform="translate(193.5,681.3) scale(0.998,1)" font-size="9.5" fill="#000" stroke="#000" stroke-width="0.3" text-anchor="start" font-weight="normal" xml:space="preserve">13 Apr 00:00</text>
<text transform="translate(257.5,681.3) scale(0.998,1)" font-size="9.5" fill="#000" stroke="#000" stroke-width="0.3" text-anchor="start" font-weight="normal" xml:space="preserve">14 Apr 08:00</text>
<text transform="translate(321.5,681.3) scale(0.998,1)" font-size="9.5" fill="#000" stroke="#000" stroke-width="0.3" text-anchor="start" font-weight="normal" xml:space="preserve">18 Apr 12:00</text>
<text transform="translate(385.5,681.3) scale(0.998,1)" font-size="9.5" fill="#000" stroke="#000" stroke-width="0.3" text-anchor="start" font-weight="normal" xml:space="preserve">19 Apr 20:00</text>
<text transform="translate(449.5,681.3) scale(0.998,1)" font-size="9.5" fill="#000" stroke="#000" stroke-width="0.3" text-anchor="start" font-weight="normal" xml:space="preserve">21 Apr 04:00</text>
<text transform="translate(513.5,681.3) scale(0.998,1)" font-size="9.5" fill="#000" stroke="#000" stroke-width="0.3" text-anchor="start" font-weight="normal" xml:space="preserve">22 Apr 12:00</text>
<text transform="translate(577.5,681.3) scale(0.998,1)" font-size="9.5" fill="#000" stroke="#000" stroke-width="0.3" text-anchor="start" font-weight="normal" xml:space="preserve">25 Apr 20:00</text>
<text transform="translate(641.5,681.3) scale(0.998,1)" font-size="9.5" fill="#000" stroke="#000" stroke-width="0.3" text-anchor="start" font-weight="normal" xml:space="preserve">27 Apr 04:00</text>
<text transform="translate(705.5,681.3) scale(0.998,1)" font-size="9.5" fill="#000" stroke="#000" stroke-width="0.3" text-anchor="start" font-weight="normal" xml:space="preserve">28 Apr 12:00</text>
<text transform="translate(769.5,681.3) scale(0.998,1)" font-size="9.5" fill="#000" stroke="#000" stroke-width="0.3" text-anchor="start" font-weight="normal" xml:space="preserve">1 May 23:00</text>
<text transform="translate(833.5,681.3) scale(0.998,1)" font-size="9.5" fill="#000" stroke="#000" stroke-width="0.3" text-anchor="start" font-weight="normal" xml:space="preserve">3 May 04:00</text>
<text transform="translate(897.5,681.3) scale(0.998,1)" font-size="9.5" fill="#000" stroke="#000" stroke-width="0.3" text-anchor="start" font-weight="normal" xml:space="preserve">4 May 12:00</text>
<text transform="translate(961.5,681.3) scale(0.998,1)" font-size="9.5" fill="#000" stroke="#000" stroke-width="0.3" text-anchor="start" font-weight="normal" xml:space="preserve">5 May 20:00</text>
<text transform="translate(1025.5,681.3) scale(0.998,1)" font-size="9.5" fill="#000" stroke="#000" stroke-width="0.3" text-anchor="start" font-weight="normal" xml:space="preserve">9 May 04:00</text>
<text transform="translate(1089.5,681.3) scale(0.998,1)" font-size="9.5" fill="#000" stroke="#000" stroke-width="0.3" text-anchor="start" font-weight="normal" xml:space="preserve">10 May 12:00</text>
<text transform="translate(1153.5,681.3) scale(0.998,1)" font-size="9.5" fill="#000" stroke="#000" stroke-width="0.3" text-anchor="start" font-weight="normal" xml:space="preserve">11 May 20:00</text>
<path d="M5 11h7l-3.5 4z" fill="#000" shape-rendering="crispEdges"/>
<text transform="translate(17,15.6) scale(0.968,1)" font-size="9.5" fill="#000" stroke="#000" stroke-width="0.3" text-anchor="start" font-weight="normal" xml:space="preserve">SP500-,H4  3942.050 3942.050 3937.950 3937.950</text>
<text transform="translate(6,429.6) scale(0.988,1)" font-size="9.5" fill="#000" stroke="#000" stroke-width="0.3" text-anchor="start" font-weight="normal" xml:space="preserve">MACD(12,26,9) -45.5564 -44.3494</text>
<text transform="translate(5.6,559.6) scale(0.975,1)" font-size="9.5" fill="#000" stroke="#000" stroke-width="0.3" text-anchor="start" font-weight="normal" xml:space="preserve">RSI(14) 32.8925</text>
<text x="419" y="368" font-size="34.67" fill="#FF0000" text-anchor="start" style="font-family:'Liberation Sans','Noto Sans CJK SC',sans-serif">多空转折点</text>
<text x="593.2" y="368" font-size="35.6" fill="#FF0000" stroke="#FF0000" stroke-width="0.25" letter-spacing="1.15">4060</text>
</svg>
</body></html>
